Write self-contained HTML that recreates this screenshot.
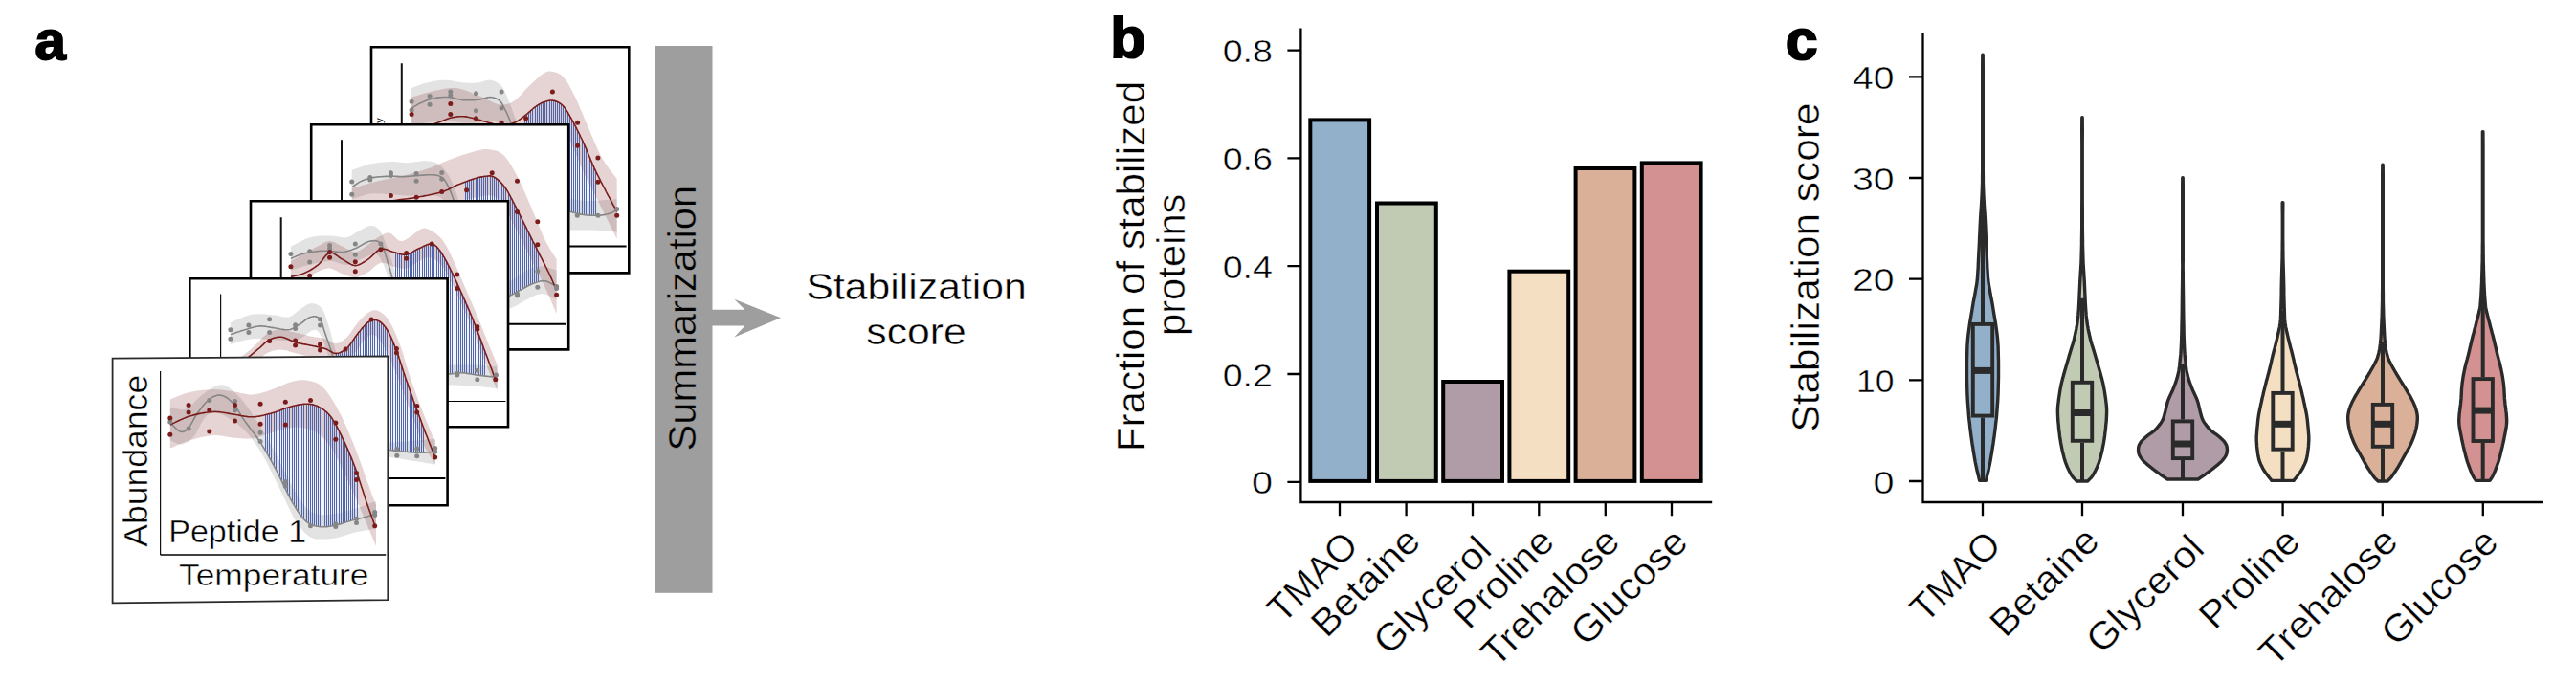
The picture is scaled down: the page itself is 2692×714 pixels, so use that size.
<!DOCTYPE html>
<html lang="en"><head><meta charset="utf-8"><title>Figure</title>
<style>html,body{margin:0;padding:0;background:#fff}svg{display:block}text{font-family:"Liberation Sans",sans-serif}.t{stroke:#fff;stroke-width:.45px}.tg{stroke:#9e9e9e;stroke-width:.45px}</style>
</head><body>
<svg width="2692" height="714" viewBox="0 0 2692 714">
<rect width="2692" height="714" fill="#fff"/>
<g>
<clipPath id="cc5"><path d="M388 49.2 L657.3 49.2 L657.3 285.4 L388 285.4Z"/></clipPath>
<path d="M388 49.2 L657.3 49.2 L657.3 285.4 L388 285.4Z" fill="#fff" stroke="#000" stroke-width="2.6" stroke-linejoin="miter"/>
<g clip-path="url(#cc5)">
<line x1="419.8" y1="66.2" x2="419.8" y2="257.6" stroke="#111" stroke-width="2"/>
<line x1="419.8" y1="257.6" x2="654.6" y2="257.6" stroke="#000" stroke-width="2"/>
<path d="M430.1 92.1 L431.4 91.6 L432.8 91.1 L434 90.6 L435.3 90.1 L436.6 89.5 L437.9 89 L439.2 88.5 L440.6 88 L441.9 87.6 L443.3 87.1 L444.7 86.7 L446.1 86.4 L447.6 86 L449.1 85.7 L450.6 85.4 L452.2 85.1 L453.8 84.8 L455.4 84.5 L457 84.3 L458.7 84.1 L460.3 83.9 L461.9 83.8 L463.5 83.7 L465.1 83.7 L466.7 83.8 L468.3 83.9 L470 84.1 L471.6 84.3 L473.2 84.6 L474.9 84.9 L476.5 85.2 L478.1 85.5 L479.7 85.8 L481.2 86 L482.7 86.2 L484.2 86.4 L485.6 86.5 L486.9 86.6 L488.3 86.6 L489.6 86.7 L490.9 86.7 L492.1 86.7 L493.4 86.7 L494.6 86.7 L495.8 86.6 L497 86.6 L498.2 86.5 L499.4 86.4 L500.6 86.2 L501.7 86 L502.9 85.7 L504 85.3 L505.2 85 L506.3 84.6 L507.4 84.3 L508.5 84 L509.5 83.8 L510.6 83.7 L511.7 83.6 L512.7 83.7 L513.7 83.9 L514.8 84.2 L515.8 84.5 L516.8 84.9 L517.8 85.3 L518.8 85.8 L519.7 86.4 L520.7 87 L521.6 87.7 L522.4 88.5 L523.3 89.3 L524.1 90.2 L524.9 91.1 L525.6 92.1 L526.3 93.2 L526.9 94.4 L527.6 95.6 L528.2 96.9 L528.7 98.2 L529.3 99.6 L529.9 101 L530.5 102.4 L531.1 103.9 L531.7 105.4 L532.3 106.9 L532.9 108.4 L533.5 109.8 L534 111.3 L534.6 112.8 L535.2 114.4 L535.8 116.1 L536.4 117.9 L537 119.8 L537.7 121.8 L538.5 124 L539.3 126.3 L540.2 128.9 L541.2 131.8 L542.2 134.8 L543.3 138 L544.4 141.4 L545.5 144.8 L546.7 148.2 L547.9 151.6 L549.1 155 L550.3 158.3 L551.5 161.4 L552.6 164.4 L553.9 167.2 L555.1 170.1 L556.3 173 L557.6 175.8 L558.9 178.6 L560.1 181.3 L561.4 183.9 L562.7 186.4 L564 188.7 L565.3 190.9 L566.6 193 L567.9 194.8 L569.1 196.5 L570.4 197.9 L571.7 199.2 L573 200.4 L574.3 201.4 L575.6 202.3 L576.9 203.1 L578.2 203.8 L579.4 204.5 L580.7 205.1 L581.9 205.7 L583.1 206.2 L584.2 206.7 L585.3 207.1 L586.4 207.4 L587.4 207.6 L588.4 207.7 L589.4 207.8 L590.4 207.8 L591.5 207.9 L592.6 207.9 L593.8 207.9 L595 208 L596.4 208.1 L597.9 208.3 L599.4 208.5 L601 208.7 L602.6 208.9 L604.3 209.1 L606 209.3 L607.8 209.5 L609.6 209.7 L611.5 209.8 L613.4 209.9 L615.3 210 L617.3 210 L619.4 210 L621.5 209.9 L623.7 209.8 L626 209.7 L628.3 209.5 L630.6 209.3 L633 209.1 L635.4 208.9 L637.7 208.7 L640.1 208.5 L642.4 208.3 L644.7 208.1 L644.7 242.4 L642.4 242.2 L640.1 242 L637.7 241.9 L635.4 241.7 L633 241.5 L630.6 241.3 L628.3 241.1 L626 241 L623.7 240.8 L621.5 240.7 L619.4 240.6 L617.3 240.5 L615.3 240.4 L613.4 240.4 L611.5 240.4 L609.7 240.4 L607.9 240.4 L606.1 240.5 L604.4 240.5 L602.7 240.5 L601.1 240.6 L599.5 240.6 L597.9 240.5 L596.4 240.5 L594.9 240.4 L593.6 240.4 L592.2 240.4 L591 240.4 L589.8 240.4 L588.6 240.4 L587.4 240.3 L586.2 240.1 L585 239.9 L583.8 239.6 L582.5 239.1 L581.2 238.6 L579.8 237.9 L578.4 237.2 L577 236.5 L575.5 235.6 L574.1 234.7 L572.6 233.7 L571.2 232.6 L569.7 231.4 L568.3 230.1 L566.8 228.6 L565.4 227 L564.1 225.3 L562.7 223.3 L561.4 221.3 L560.1 219 L558.8 216.7 L557.5 214.2 L556.2 211.6 L555 208.9 L553.7 206.2 L552.5 203.4 L551.2 200.5 L550 197.7 L548.8 194.8 L547.7 191.9 L546.5 188.7 L545.3 185.5 L544.1 182.1 L543 178.7 L541.8 175.3 L540.7 171.9 L539.6 168.6 L538.5 165.4 L537.5 162.3 L536.5 159.4 L535.5 156.8 L534.6 154.3 L533.7 151.9 L532.9 149.6 L532.1 147.5 L531.4 145.4 L530.6 143.4 L529.9 141.6 L529.2 139.9 L528.4 138.2 L527.7 136.7 L526.9 135.3 L526 133.9 L525.1 132.7 L524.3 131.7 L523.4 130.7 L522.5 129.9 L521.6 129.2 L520.7 128.6 L519.7 128.1 L518.8 127.6 L517.8 127.2 L516.7 126.9 L515.7 126.6 L514.6 126.3 L513.5 126.2 L512.3 126.1 L511.1 126.2 L509.8 126.3 L508.5 126.5 L507.2 126.8 L505.9 127.1 L504.6 127.4 L503.3 127.7 L502 127.9 L500.7 128.1 L499.4 128.2 L498.1 128.3 L496.9 128.4 L495.7 128.4 L494.4 128.4 L493.2 128.5 L492 128.5 L490.8 128.5 L489.5 128.4 L488.2 128.4 L486.9 128.4 L485.6 128.3 L484.2 128.2 L482.7 128.1 L481.2 128 L479.7 127.8 L478.1 127.6 L476.5 127.4 L474.9 127.2 L473.2 126.9 L471.6 126.7 L470 126.6 L468.3 126.4 L466.7 126.4 L465.1 126.3 L463.5 126.3 L461.9 126.4 L460.3 126.5 L458.7 126.6 L457 126.8 L455.4 126.9 L453.8 127.1 L452.2 127.3 L450.6 127.5 L449.1 127.8 L447.6 128 L446.1 128.2 L444.7 128.5 L443.3 128.8 L441.9 129 L440.6 129.4 L439.2 129.7 L437.9 130 L436.6 130.4 L435.3 130.7 L434 131 L432.8 131.4 L431.4 131.7 L430.1 132Z" fill="#8a8a8a" fill-opacity="0.24"/>
<path d="M430.1 101.6 L432.1 101 L434.1 100.5 L436 99.9 L438 99.3 L440 98.7 L442 98.1 L443.9 97.6 L445.9 97 L447.9 96.5 L449.8 96 L451.8 95.5 L453.7 95.1 L455.6 94.7 L457.6 94.3 L459.5 93.9 L461.4 93.5 L463.3 93.1 L465.2 92.7 L467.1 92.4 L469 92.2 L470.9 92 L472.7 91.9 L474.6 91.9 L476.5 92.1 L478.4 92.3 L480.4 92.7 L482.3 93.2 L484.2 93.8 L486.1 94.4 L488 95.1 L489.9 95.8 L491.8 96.6 L493.7 97.4 L495.6 98.2 L497.5 99 L499.4 99.7 L501.3 100.5 L503.3 101.3 L505.3 102.2 L507.3 103.2 L509.3 104.2 L511.3 105.2 L513.2 106.1 L515.2 106.9 L517 107.7 L518.8 108.4 L520.6 108.9 L522.2 109.2 L523.7 109.4 L525.2 109.5 L526.5 109.5 L527.8 109.3 L529.1 109.1 L530.3 108.8 L531.5 108.5 L532.6 108 L533.8 107.5 L535 106.8 L536.2 106.2 L537.4 105.4 L538.7 104.5 L540 103.5 L541.2 102.3 L542.5 101.1 L543.8 99.8 L545 98.4 L546.3 97 L547.6 95.5 L548.8 94.1 L550.1 92.7 L551.4 91.4 L552.6 90.2 L553.9 89 L555.3 87.7 L556.6 86.4 L557.9 85.2 L559.3 83.9 L560.6 82.7 L561.9 81.5 L563.2 80.4 L564.5 79.3 L565.7 78.4 L566.8 77.6 L567.9 76.9 L568.9 76.3 L569.8 75.8 L570.6 75.4 L571.4 75.1 L572.1 74.9 L572.9 74.7 L573.6 74.6 L574.3 74.6 L575 74.6 L575.8 74.7 L576.5 74.8 L577.4 75 L578.3 75.1 L579.2 75.3 L580.1 75.5 L581 75.8 L582 76.1 L583 76.5 L583.9 77 L584.9 77.5 L585.9 78.1 L586.9 78.9 L587.8 79.7 L588.8 80.7 L589.7 81.7 L590.7 82.9 L591.6 84.2 L592.5 85.6 L593.5 87.1 L594.4 88.6 L595.3 90.3 L596.3 92 L597.2 93.8 L598.2 95.7 L599.2 97.7 L600.2 99.7 L601.3 101.8 L602.3 104.1 L603.4 106.4 L604.4 108.8 L605.5 111.4 L606.6 114 L607.8 116.6 L608.9 119.3 L610 122 L611.2 124.7 L612.3 127.4 L613.5 130.1 L614.7 132.9 L615.9 135.7 L617.2 138.7 L618.4 141.7 L619.7 144.7 L621 147.7 L622.3 150.7 L623.6 153.7 L624.8 156.5 L626.1 159.3 L627.5 161.9 L628.8 164.4 L630.1 166.7 L631.4 168.8 L632.7 170.9 L634 172.8 L635.4 174.7 L636.7 176.5 L638 178.3 L639.4 180 L640.7 181.8 L642.1 183.5 L643.4 185.3 L644.7 187.2 L644.7 250 L643.7 247.9 L642.7 245.8 L641.7 243.8 L640.6 241.7 L639.6 239.6 L638.6 237.5 L637.6 235.4 L636.6 233.4 L635.5 231.3 L634.5 229.3 L633.5 227.3 L632.6 225.3 L631.6 223.3 L630.6 221.3 L629.6 219.4 L628.7 217.5 L627.7 215.6 L626.8 213.7 L625.9 211.8 L624.9 210 L624 208.1 L623 206.2 L622.1 204.3 L621.1 202.4 L620.2 200.5 L619.2 198.7 L618.3 196.8 L617.3 195 L616.4 193.1 L615.4 191.2 L614.5 189.4 L613.5 187.5 L612.6 185.6 L611.6 183.6 L610.7 181.6 L609.7 179.6 L608.8 177.5 L607.8 175.3 L606.8 173 L605.8 170.6 L604.8 168.3 L603.8 165.9 L602.8 163.6 L601.8 161.3 L600.9 159 L600 156.9 L599.1 154.9 L598.3 153 L597.5 151.2 L596.8 149.4 L596.1 147.7 L595.5 146.1 L594.9 144.6 L594.3 143.1 L593.7 141.7 L593.1 140.3 L592.5 139.1 L591.9 137.9 L591.3 136.8 L590.7 135.8 L590.1 134.9 L589.5 134.1 L588.9 133.4 L588.3 132.8 L587.7 132.3 L587.1 131.8 L586.5 131.4 L585.9 131 L585.3 130.8 L584.6 130.5 L583.9 130.3 L583.1 130.1 L582.3 130 L581.4 129.9 L580.5 129.9 L579.6 130 L578.6 130.1 L577.6 130.2 L576.6 130.4 L575.6 130.7 L574.6 131 L573.6 131.3 L572.6 131.6 L571.7 132 L570.7 132.5 L569.8 132.9 L568.9 133.5 L568 134.1 L567.1 134.7 L566.2 135.4 L565.3 136 L564.3 136.8 L563.4 137.5 L562.4 138.2 L561.3 138.9 L560.3 139.6 L559.1 140.4 L558 141.2 L556.9 142 L555.7 142.9 L554.6 143.8 L553.4 144.6 L552.1 145.5 L550.8 146.3 L549.5 147.1 L548.1 147.9 L546.6 148.6 L545 149.2 L543.4 149.7 L541.7 150.2 L539.9 150.7 L538 151.1 L536.1 151.5 L534.1 151.9 L532.1 152.2 L530.1 152.5 L528.1 152.7 L526.1 152.8 L524.1 152.9 L522.2 153 L520.3 152.9 L518.4 152.8 L516.5 152.5 L514.6 152.3 L512.7 151.9 L510.8 151.5 L508.9 151.1 L507 150.7 L505.1 150.3 L503.2 149.9 L501.3 149.5 L499.4 149.2 L497.5 148.8 L495.6 148.4 L493.7 148 L491.8 147.6 L489.9 147.2 L488 146.8 L486.1 146.4 L484.2 146.1 L482.3 145.8 L480.4 145.5 L478.4 145.4 L476.5 145.4 L474.6 145.4 L472.7 145.5 L470.9 145.7 L469 145.9 L467.1 146.2 L465.2 146.5 L463.3 146.9 L461.4 147.3 L459.5 147.8 L457.6 148.2 L455.6 148.7 L453.7 149.2 L451.8 149.7 L449.8 150.2 L447.9 150.8 L445.9 151.4 L443.9 152.1 L442 152.7 L440 153.4 L438 154.1 L436 154.8 L434.1 155.5 L432.1 156.1 L430.1 156.8Z" fill="#7a1c1c" fill-opacity="0.19"/>
<path d="M548.5 120.9 L550.5 119.3 L552.5 117.6 L554.5 115.8 L556.5 114.1 L559.5 111.7 L561.5 110.3 L563.5 109 L565.5 107.9 L567.5 107 L569.5 106.2 L571.5 105.7 L574.5 105.1 L576.5 105 L578.5 105.2 L580.5 105.7 L582.5 106.5 L584.5 107.5 L586.5 108.9 L588.5 110.8 L590.5 113.2 L593.5 117.8 L595.5 121.2 L597.5 124.8 L599.5 128.5 L601.5 132.3 L603.5 136.2 L605.5 140.3 L608.5 146.5 L610.5 150.9 L612.5 155.4 L614.5 160.2 L616.5 165 L618.5 169.8 L620.5 174.4 L622.5 178.7 L622.5 225.3 L620.5 225.3 L618.5 225.2 L616.5 225.1 L614.5 225 L612.5 224.8 L610.5 224.6 L608.5 224.3 L605.5 223.7 L603.5 223.2 L601.5 222.7 L599.5 222.2 L597.5 221.7 L595.5 221.3 L593.5 221 L590.5 220.6 L588.5 220.4 L586.5 220 L584.5 219.4 L582.5 218.9 L580.5 218.3 L578.5 217.7 L576.5 216.9 L574.5 215.9 L571.5 213.7 L569.5 211.9 L567.5 209.9 L565.5 207.8 L563.5 205.4 L561.5 202.8 L559.5 199.9 L556.5 194.9 L554.5 190.9 L552.5 186.3 L550.5 181.3 L548.5 176Z" fill="#4559a5" fill-opacity="0.07"/>
<path d="M548.5 120.9V176M550.5 119.3V181.3M552.5 117.6V186.3M554.5 115.8V190.9M556.5 114.1V194.9M559.5 111.7V199.9M561.5 110.3V202.8M563.5 109V205.4M565.5 107.9V207.8M567.5 107V209.9M569.5 106.2V211.9M571.5 105.7V213.7M574.5 105.1V215.9M576.5 105V216.9M578.5 105.2V217.7M580.5 105.7V218.3M582.5 106.5V218.9M584.5 107.5V219.4M586.5 108.9V220M588.5 110.8V220.4M590.5 113.2V220.6M593.5 117.8V221M595.5 121.2V221.3M597.5 124.8V221.7M599.5 128.5V222.2M601.5 132.3V222.7M603.5 136.2V223.2M605.5 140.3V223.7M608.5 146.5V224.3M610.5 150.9V224.6M612.5 155.4V224.8M614.5 160.2V225M616.5 165V225.1M618.5 169.8V225.2M620.5 174.4V225.3M622.5 178.7V225.3" stroke="#4f65ac" stroke-width="1" fill="none"/>
<path d="M430.1 113 L431 112.5 L431.8 112 L432.6 111.6 L433.4 111.1 L434.2 110.6 L435.1 110.1 L435.9 109.6 L436.7 109.1 L437.6 108.6 L438.5 108.2 L439.4 107.7 L440.4 107.3 L441.4 106.9 L442.4 106.4 L443.5 106 L444.5 105.6 L445.6 105.1 L446.7 104.7 L447.9 104.3 L449 104 L450.2 103.6 L451.3 103.3 L452.5 103 L453.7 102.7 L454.9 102.5 L456.1 102.3 L457.4 102.1 L458.6 101.9 L459.9 101.8 L461.2 101.7 L462.5 101.6 L463.8 101.5 L465.1 101.5 L466.4 101.5 L467.7 101.5 L468.9 101.6 L470.2 101.7 L471.5 101.9 L472.7 102.1 L474 102.4 L475.3 102.7 L476.5 103.1 L477.8 103.4 L479.1 103.7 L480.4 104 L481.6 104.3 L482.9 104.5 L484.2 104.6 L485.4 104.7 L486.7 104.8 L488 104.8 L489.3 104.8 L490.6 104.8 L491.9 104.8 L493.2 104.7 L494.4 104.7 L495.7 104.6 L496.9 104.5 L498.2 104.4 L499.4 104.3 L500.6 104.1 L501.7 103.9 L502.9 103.6 L504.1 103.3 L505.3 103 L506.4 102.7 L507.5 102.4 L508.6 102.1 L509.7 101.9 L510.7 101.7 L511.7 101.6 L512.7 101.6 L513.6 101.7 L514.5 101.8 L515.4 102 L516.3 102.2 L517.1 102.4 L517.9 102.7 L518.7 103.1 L519.5 103.5 L520.2 103.9 L520.9 104.4 L521.6 104.9 L522.2 105.4 L522.8 106 L523.4 106.6 L523.9 107.3 L524.4 108 L524.9 108.8 L525.3 109.6 L525.7 110.4 L526.2 111.2 L526.6 112.1 L527 113 L527.5 114 L527.9 114.9 L528.4 115.8 L528.8 116.7 L529.3 117.5 L529.7 118.4 L530.1 119.2 L530.5 120.1 L531 121.1 L531.4 122.2 L531.9 123.5 L532.5 124.9 L533 126.4 L533.6 128.2 L534.3 130.2 L534.9 132.5 L535.6 134.9 L536.4 137.5 L537.1 140.3 L537.9 143.1 L538.7 146 L539.5 148.9 L540.4 151.9 L541.3 154.8 L542.2 157.7 L543.1 160.6 L544.1 163.4 L545.1 166.3 L546.2 169.4 L547.2 172.4 L548.3 175.5 L549.4 178.5 L550.6 181.5 L551.7 184.5 L552.9 187.3 L554.1 190 L555.3 192.5 L556.5 194.8 L557.7 197 L558.9 199 L560.2 201 L561.5 202.8 L562.8 204.5 L564.1 206.1 L565.4 207.6 L566.7 209.1 L568 210.4 L569.2 211.6 L570.5 212.8 L571.7 213.8 L572.9 214.8 L574 215.6 L575.2 216.3 L576.3 216.9 L577.5 217.4 L578.6 217.8 L579.7 218.1 L580.8 218.4 L581.8 218.7 L582.9 219 L584 219.3 L585 219.6 L586 219.8 L587 220.1 L587.9 220.3 L588.9 220.4 L589.8 220.6 L590.7 220.7 L591.6 220.8 L592.5 220.9 L593.5 221 L594.4 221.1 L595.4 221.3 L596.4 221.5 L597.4 221.7 L598.5 221.9 L599.6 222.2 L600.6 222.5 L601.7 222.8 L602.8 223 L603.9 223.3 L605.1 223.6 L606.2 223.9 L607.4 224.1 L608.5 224.3 L609.7 224.5 L610.9 224.6 L612.2 224.8 L613.5 224.9 L614.8 225 L616.1 225.1 L617.5 225.2 L618.8 225.2 L620.1 225.3 L621.4 225.3 L622.6 225.3 L623.8 225.3 L624.9 225.3 L626 225.2 L627.1 225.1 L628.1 225 L629.1 224.9 L630.1 224.8 L631.1 224.6 L632 224.4 L632.9 224.2 L633.8 224 L634.7 223.8 L635.5 223.6 L636.4 223.4 L637.2 223.1 L637.9 222.8 L638.7 222.5 L639.4 222.2 L640.1 221.9 L640.7 221.6 L641.4 221.2 L642.1 220.9 L642.7 220.5 L643.4 220.2 L644 219.9 L644.7 219.6" stroke="#868686" stroke-width="1.6" fill="none"/>
<path d="M430.1 135.8 L431.3 135.5 L432.5 135.2 L433.7 134.9 L434.8 134.6 L436 134.3 L437.2 133.9 L438.4 133.6 L439.6 133.3 L440.7 133 L441.9 132.7 L443.1 132.3 L444.2 132 L445.3 131.7 L446.5 131.4 L447.6 131.1 L448.7 130.8 L449.8 130.5 L450.9 130.2 L452 129.9 L453.1 129.6 L454.2 129.3 L455.3 128.9 L456.4 128.6 L457.5 128.2 L458.6 127.8 L459.7 127.4 L460.8 127 L462 126.5 L463.1 126.1 L464.2 125.6 L465.3 125.2 L466.4 124.7 L467.5 124.3 L468.6 123.9 L469.7 123.6 L470.8 123.3 L471.9 123 L473.1 122.8 L474.2 122.6 L475.3 122.4 L476.4 122.2 L477.5 122 L478.6 121.9 L479.7 121.8 L480.8 121.8 L481.9 121.7 L483 121.7 L484.2 121.8 L485.3 121.8 L486.4 121.9 L487.5 122.1 L488.6 122.3 L489.7 122.5 L490.8 122.8 L491.9 123 L493 123.3 L494.1 123.6 L495.3 123.9 L496.4 124.1 L497.5 124.4 L498.6 124.7 L499.7 125 L500.8 125.3 L501.9 125.6 L503 126 L504.1 126.3 L505.2 126.7 L506.4 127 L507.5 127.3 L508.6 127.6 L509.7 127.9 L510.8 128.2 L511.9 128.5 L513 128.8 L514.1 129.1 L515.2 129.4 L516.3 129.7 L517.5 130 L518.6 130.2 L519.7 130.4 L520.8 130.6 L521.9 130.8 L523 130.9 L524.1 130.9 L525.2 130.9 L526.4 130.8 L527.5 130.7 L528.6 130.6 L529.8 130.4 L530.9 130.2 L532 130 L533.1 129.7 L534.2 129.4 L535.3 129 L536.4 128.6 L537.4 128.2 L538.4 127.8 L539.4 127.3 L540.4 126.7 L541.4 126.1 L542.3 125.5 L543.3 124.8 L544.2 124.2 L545.1 123.5 L546 122.8 L547 122.1 L547.9 121.3 L548.8 120.6 L549.8 119.9 L550.8 119.1 L551.7 118.3 L552.7 117.4 L553.7 116.6 L554.7 115.7 L555.6 114.8 L556.6 114 L557.5 113.2 L558.5 112.4 L559.4 111.7 L560.3 111.1 L561.1 110.5 L562 110 L562.8 109.4 L563.6 109 L564.4 108.5 L565.1 108.1 L565.9 107.7 L566.7 107.3 L567.4 107 L568.2 106.7 L569 106.4 L569.8 106.2 L570.6 105.9 L571.4 105.7 L572.1 105.5 L572.9 105.4 L573.7 105.2 L574.5 105.1 L575.3 105 L576.1 105 L576.9 105 L577.7 105.1 L578.5 105.2 L579.3 105.4 L580.1 105.6 L580.9 105.9 L581.7 106.1 L582.5 106.5 L583.2 106.8 L584 107.3 L584.8 107.7 L585.6 108.3 L586.4 108.9 L587.2 109.5 L588 110.3 L588.8 111.1 L589.6 112 L590.4 113 L591.1 114.1 L591.9 115.2 L592.7 116.4 L593.4 117.6 L594.2 119 L595 120.3 L595.8 121.8 L596.6 123.2 L597.5 124.8 L598.3 126.3 L599.2 127.9 L600.1 129.6 L601 131.4 L602 133.2 L602.9 135.1 L603.9 137 L604.9 139 L605.9 141 L606.8 143 L607.8 145 L608.8 147.1 L609.7 149.2 L610.7 151.3 L611.6 153.4 L612.6 155.6 L613.5 157.9 L614.5 160.2 L615.4 162.5 L616.4 164.8 L617.3 167.1 L618.3 169.3 L619.2 171.5 L620.2 173.7 L621.1 175.8 L622.1 177.8 L623 179.8 L624 181.8 L624.9 183.7 L625.9 185.6 L626.8 187.4 L627.7 189.3 L628.7 191.2 L629.6 193 L630.6 194.9 L631.6 196.7 L632.6 198.6 L633.5 200.5 L634.5 202.4 L635.5 204.3 L636.6 206.2 L637.6 208.1 L638.6 210 L639.6 211.9 L640.6 213.8 L641.7 215.7 L642.7 217.6 L643.7 219.6 L644.7 221.5" stroke="#7a1c1c" stroke-width="1.6" fill="none"/>
<circle cx="430.1" cy="106.2" r="2.5" fill="#868686"/>
<circle cx="430.1" cy="114.9" r="2.5" fill="#868686"/>
<circle cx="449.1" cy="100.4" r="2.5" fill="#868686"/>
<circle cx="449.1" cy="109.2" r="2.5" fill="#868686"/>
<circle cx="470.8" cy="95.9" r="2.5" fill="#868686"/>
<circle cx="470.8" cy="99.7" r="2.5" fill="#868686"/>
<circle cx="497.5" cy="97.8" r="2.5" fill="#868686"/>
<circle cx="497.5" cy="115.7" r="2.5" fill="#868686"/>
<circle cx="524.1" cy="95.9" r="2.5" fill="#868686"/>
<circle cx="524.1" cy="113" r="2.5" fill="#868686"/>
<circle cx="603.3" cy="225.3" r="2.5" fill="#868686"/>
<circle cx="624.9" cy="225.3" r="2.5" fill="#868686"/>
<circle cx="644.7" cy="218.4" r="2.5" fill="#868686"/>
<circle cx="430.1" cy="119.5" r="2.5" fill="#7a1c1c"/>
<circle cx="470.8" cy="108.4" r="2.5" fill="#7a1c1c"/>
<circle cx="470.8" cy="119.5" r="2.5" fill="#7a1c1c"/>
<circle cx="497.5" cy="123.7" r="2.5" fill="#7a1c1c"/>
<circle cx="524.1" cy="128.2" r="2.5" fill="#7a1c1c"/>
<circle cx="549.6" cy="123.7" r="2.5" fill="#7a1c1c"/>
<circle cx="577.4" cy="95.9" r="2.5" fill="#7a1c1c"/>
<circle cx="603.6" cy="128.2" r="2.5" fill="#7a1c1c"/>
<circle cx="603.6" cy="152.2" r="2.5" fill="#7a1c1c"/>
<circle cx="624.9" cy="165.1" r="2.5" fill="#7a1c1c"/>
<circle cx="624.9" cy="190.3" r="2.5" fill="#7a1c1c"/>
<circle cx="644.7" cy="225.3" r="2.5" fill="#7a1c1c"/>
<text transform="translate(399.6 123.2) rotate(-90)" font-size="11" text-anchor="end" fill="#000">y</text>
</g></g>
<g>
<clipPath id="cc4"><path d="M325.2 130.2 L594.2 130.2 L594.2 365.4 L325.2 365.4Z"/></clipPath>
<path d="M325.2 130.2 L594.2 130.2 L594.2 365.4 L325.2 365.4Z" fill="#fff" stroke="#000" stroke-width="2.6" stroke-linejoin="miter"/>
<g clip-path="url(#cc4)">
<line x1="357" y1="146.2" x2="357" y2="338.7" stroke="#111" stroke-width="2"/>
<line x1="357" y1="338.7" x2="591.9" y2="338.7" stroke="#000" stroke-width="2"/>
<path d="M367.7 177.8 L369.4 177.2 L371 176.7 L372.7 176.1 L374.3 175.5 L375.9 174.9 L377.6 174.3 L379.2 173.7 L380.8 173.2 L382.5 172.6 L384.2 172.2 L385.8 171.7 L387.5 171.3 L389.2 171 L391 170.7 L392.8 170.4 L394.6 170.1 L396.4 169.9 L398.1 169.7 L399.9 169.5 L401.7 169.4 L403.5 169.3 L405.2 169.2 L406.8 169.1 L408.4 169 L410 169 L411.5 169.1 L413 169.1 L414.4 169.3 L415.8 169.4 L417.1 169.6 L418.5 169.7 L419.9 169.9 L421.2 170 L422.7 170.1 L424.1 170.2 L425.6 170.2 L427.1 170.1 L428.7 170 L430.3 169.8 L432 169.6 L433.7 169.3 L435.3 169.1 L437 168.9 L438.6 168.7 L440.2 168.5 L441.7 168.3 L443.2 168.3 L444.6 168.3 L445.9 168.3 L447.2 168.4 L448.4 168.5 L449.6 168.7 L450.7 168.8 L451.9 169 L452.9 169.3 L454 169.6 L455 169.9 L456 170.3 L457 170.8 L457.9 171.3 L458.8 171.9 L459.7 172.6 L460.6 173.3 L461.4 174 L462.2 174.8 L463 175.7 L463.8 176.6 L464.5 177.5 L465.3 178.5 L466 179.5 L466.7 180.5 L467.4 181.6 L468.1 182.6 L468.8 183.6 L469.4 184.6 L470 185.5 L470.5 186.5 L471.1 187.6 L471.7 188.7 L472.3 190 L472.9 191.4 L473.6 193 L474.3 194.8 L475 196.8 L475.8 199.1 L476.7 201.6 L477.5 204.3 L478.4 207.2 L479.3 210.3 L480.3 213.5 L481.2 216.7 L482.2 220 L483.2 223.3 L484.3 226.6 L485.4 229.8 L486.5 233 L487.6 236.1 L488.8 239.4 L490 242.7 L491.2 246.1 L492.5 249.5 L493.8 252.9 L495.1 256.3 L496.5 259.5 L497.8 262.7 L499.1 265.6 L500.4 268.4 L501.7 271 L502.9 273.4 L504.2 275.7 L505.5 277.9 L506.7 280 L508 281.9 L509.2 283.7 L510.5 285.4 L511.8 287 L513 288.4 L514.3 289.8 L515.6 290.9 L516.9 291.9 L518.2 292.8 L519.5 293.5 L520.8 294.1 L522.1 294.5 L523.4 294.8 L524.7 294.9 L526 295 L527.4 294.9 L528.7 294.7 L530.1 294.5 L531.5 294.2 L532.9 293.8 L534.3 293.3 L535.8 292.6 L537.4 291.7 L538.9 290.7 L540.5 289.6 L542.1 288.5 L543.6 287.3 L545.2 286.2 L546.7 285.1 L548.2 284 L549.7 283.2 L551.1 282.4 L552.5 281.8 L553.9 281.3 L555.2 280.8 L556.4 280.3 L557.7 279.9 L558.9 279.6 L560.2 279.3 L561.4 279 L562.6 278.9 L563.9 278.7 L565.1 278.6 L566.4 278.6 L567.6 278.7 L568.9 278.8 L570.2 279 L571.4 279.3 L572.7 279.7 L574 280 L575.2 280.5 L576.5 280.9 L577.8 281.3 L579 281.7 L580.3 282.1 L581.6 282.4 L581.6 312.9 L580.3 312.4 L579 311.8 L577.8 311.2 L576.5 310.5 L575.2 309.9 L574 309.3 L572.7 308.7 L571.4 308.2 L570.2 307.8 L568.9 307.5 L567.6 307.2 L566.4 307.2 L565.1 307.2 L563.9 307.4 L562.6 307.7 L561.4 308.1 L560.2 308.5 L558.9 309.1 L557.7 309.6 L556.4 310.3 L555.2 310.9 L553.9 311.6 L552.5 312.2 L551.1 312.9 L549.7 313.6 L548.2 314.3 L546.7 315.2 L545.2 316.1 L543.6 317 L542.1 318 L540.5 318.9 L538.9 319.8 L537.4 320.6 L535.8 321.3 L534.3 321.9 L532.9 322.4 L531.5 322.8 L530.1 323.1 L528.7 323.5 L527.4 323.7 L526 323.9 L524.7 324 L523.4 324.1 L522.1 324 L520.8 323.8 L519.5 323.5 L518.2 323 L516.9 322.4 L515.6 321.6 L514.3 320.7 L513 319.7 L511.8 318.6 L510.5 317.3 L509.2 316 L508 314.5 L506.7 312.9 L505.5 311.1 L504.2 309.3 L502.9 307.3 L501.7 305.3 L500.4 303 L499.1 300.6 L497.8 298 L496.5 295.3 L495.2 292.4 L493.9 289.4 L492.7 286.4 L491.4 283.3 L490.1 280.2 L488.9 277.1 L487.7 274.1 L486.5 271 L485.3 267.9 L484.1 264.7 L482.9 261.4 L481.7 258 L480.6 254.7 L479.4 251.3 L478.3 247.9 L477.2 244.7 L476.2 241.5 L475.1 238.5 L474.1 235.6 L473.1 233 L472.2 230.5 L471.4 228.1 L470.5 225.8 L469.8 223.6 L469 221.5 L468.3 219.5 L467.5 217.7 L466.8 215.9 L466 214.3 L465.3 212.8 L464.5 211.4 L463.6 210.1 L462.8 209 L462 208.1 L461.3 207.4 L460.5 206.7 L459.8 206.2 L459 205.8 L458.1 205.5 L457.2 205.3 L456.2 205 L455 204.8 L453.7 204.6 L452.2 204.4 L450.5 204.2 L448.5 204.1 L446.4 204 L444.1 204 L441.7 204.1 L439.2 204.1 L436.8 204.2 L434.3 204.3 L431.9 204.4 L429.6 204.4 L427.5 204.4 L425.6 204.4 L423.8 204.4 L422.2 204.3 L420.7 204.2 L419.3 204.1 L418 204 L416.7 203.9 L415.4 203.8 L414.1 203.7 L412.8 203.6 L411.4 203.5 L410 203.4 L408.4 203.3 L406.8 203.2 L405.2 203.1 L403.5 202.9 L401.7 202.8 L399.9 202.6 L398.1 202.5 L396.4 202.4 L394.6 202.3 L392.8 202.2 L391 202.3 L389.2 202.4 L387.5 202.5 L385.8 202.8 L384.2 203.1 L382.5 203.5 L380.8 203.9 L379.2 204.4 L377.6 205 L375.9 205.5 L374.3 206.1 L372.7 206.6 L371 207.2 L369.4 207.7 L367.7 208.2Z" fill="#8a8a8a" fill-opacity="0.24"/>
<path d="M367.7 196.8 L370 196.2 L372.3 195.5 L374.6 194.9 L376.9 194.2 L379.2 193.5 L381.5 192.9 L383.8 192.2 L386.1 191.6 L388.3 191 L390.6 190.4 L392.9 189.8 L395.1 189.2 L397.4 188.7 L399.6 188.2 L401.8 187.7 L404.1 187.2 L406.3 186.8 L408.5 186.3 L410.7 185.9 L412.9 185.5 L415.1 185 L417.3 184.5 L419.5 184 L421.8 183.5 L424 182.9 L426.2 182.4 L428.5 181.8 L430.8 181.2 L433.1 180.6 L435.3 179.9 L437.6 179.3 L439.8 178.6 L442 178 L444.2 177.3 L446.3 176.6 L448.4 175.9 L450.4 175.2 L452.4 174.4 L454.4 173.6 L456.3 172.8 L458.2 172 L460.1 171.1 L461.9 170.3 L463.8 169.5 L465.6 168.7 L467.5 167.9 L469.3 167.1 L471.2 166.4 L473.2 165.7 L475.1 164.9 L477.1 164.2 L479.1 163.5 L481.1 162.8 L483.1 162.1 L485.1 161.5 L487 160.9 L488.9 160.3 L490.7 159.7 L492.4 159.2 L494.1 158.8 L495.6 158.3 L497 157.9 L498.4 157.6 L499.7 157.2 L500.9 156.9 L502.1 156.7 L503.3 156.4 L504.5 156.3 L505.7 156.1 L506.8 156.1 L508 156 L509.3 156.1 L510.6 156.2 L511.9 156.3 L513.2 156.5 L514.5 156.7 L515.8 156.9 L517.1 157.3 L518.4 157.6 L519.7 158.1 L521 158.6 L522.2 159.2 L523.4 159.9 L524.5 160.7 L525.6 161.5 L526.6 162.5 L527.6 163.5 L528.6 164.7 L529.5 165.9 L530.5 167.1 L531.4 168.5 L532.3 169.9 L533.2 171.3 L534.1 172.8 L535 174.3 L535.9 175.9 L536.9 177.5 L537.8 179.2 L538.8 181 L539.7 182.8 L540.7 184.7 L541.6 186.6 L542.6 188.5 L543.5 190.5 L544.5 192.6 L545.4 194.6 L546.4 196.7 L547.3 198.7 L548.3 200.8 L549.2 202.9 L550.2 205.1 L551.1 207.3 L552.1 209.5 L553 211.8 L554 214.1 L554.9 216.3 L555.9 218.6 L556.8 220.9 L557.8 223.1 L558.8 225.4 L559.7 227.6 L560.7 229.9 L561.6 232.2 L562.6 234.5 L563.5 236.8 L564.5 239.1 L565.4 241.4 L566.4 243.7 L567.3 245.9 L568.3 248 L569.2 250 L570.2 252 L571.1 253.8 L572.1 255.6 L573 257.3 L574 258.9 L574.9 260.5 L575.9 262 L576.8 263.5 L577.8 265 L578.7 266.4 L579.7 267.9 L580.6 269.5 L581.6 271 L581.6 328.1 L580.6 325.9 L579.7 323.6 L578.7 321.3 L577.8 319.1 L576.8 316.8 L575.9 314.5 L574.9 312.3 L574 310.1 L573 307.8 L572.1 305.7 L571.1 303.5 L570.2 301.5 L569.2 299.4 L568.3 297.4 L567.3 295.5 L566.4 293.6 L565.4 291.7 L564.5 289.8 L563.5 287.9 L562.6 286.1 L561.6 284.2 L560.7 282.4 L559.7 280.5 L558.8 278.6 L557.8 276.7 L556.8 274.8 L555.9 272.9 L554.9 271 L554 269.1 L553 267.2 L552.1 265.3 L551.1 263.4 L550.2 261.5 L549.2 259.6 L548.3 257.7 L547.3 255.8 L546.4 253.9 L545.4 252 L544.5 250 L543.5 248.1 L542.6 246.2 L541.6 244.3 L540.7 242.3 L539.7 240.4 L538.8 238.5 L537.8 236.7 L536.9 234.8 L535.9 233 L535 231.1 L534 229.2 L533.1 227.3 L532.1 225.4 L531.2 223.4 L530.2 221.5 L529.3 219.7 L528.3 218 L527.4 216.3 L526.4 214.7 L525.5 213.3 L524.5 212 L523.6 210.9 L522.6 209.9 L521.7 209 L520.8 208.2 L519.9 207.4 L519 206.8 L518.1 206.2 L517.2 205.8 L516.2 205.3 L515.2 205 L514.2 204.7 L513.1 204.4 L512 204.2 L510.8 204.2 L509.6 204.2 L508.3 204.3 L507 204.4 L505.7 204.7 L504.4 204.9 L503.1 205.2 L501.8 205.5 L500.4 205.8 L499.1 206.1 L497.9 206.3 L496.6 206.6 L495.4 206.8 L494.2 207 L493.1 207.2 L491.9 207.5 L490.7 207.8 L489.5 208 L488.3 208.4 L487 208.7 L485.6 209.1 L484.2 209.6 L482.6 210.1 L481 210.7 L479.3 211.4 L477.6 212.2 L475.7 213 L473.9 213.9 L471.9 214.8 L470 215.7 L468 216.5 L466 217.4 L463.9 218.2 L461.9 219 L459.8 219.6 L457.7 220.3 L455.6 220.8 L453.4 221.4 L451.2 221.9 L448.9 222.4 L446.6 222.9 L444.3 223.3 L442.1 223.7 L439.8 224.1 L437.6 224.6 L435.3 225 L433.2 225.4 L431 225.7 L428.9 226.1 L426.8 226.4 L424.7 226.8 L422.5 227.1 L420.5 227.4 L418.4 227.7 L416.3 228 L414.3 228.2 L412.3 228.5 L410.4 228.8 L408.4 229.2 L406.6 229.5 L404.7 229.8 L402.9 230.1 L401.1 230.4 L399.4 230.6 L397.7 230.9 L396 231.2 L394.3 231.6 L392.6 231.9 L390.9 232.2 L389.2 232.6 L387.5 233 L385.8 233.4 L384.2 233.8 L382.5 234.3 L380.8 234.7 L379.2 235.2 L377.6 235.7 L375.9 236.2 L374.3 236.7 L372.7 237.2 L371 237.7 L369.4 238.2 L367.7 238.7Z" fill="#7a1c1c" fill-opacity="0.19"/>
<path d="M486.5 189.9 L488.5 189.2 L490.5 188.5 L492.5 187.8 L494.5 187.2 L497.5 186.3 L499.5 185.7 L501.5 185.3 L503.5 184.8 L505.5 184.5 L507.5 184.2 L509.5 184.1 L512.5 183.9 L514.5 184.3 L516.5 185.2 L518.5 186.5 L520.5 188 L522.5 189.9 L524.5 192 L526.5 194.4 L528.5 197.1 L531.5 201.9 L533.5 205.6 L535.5 209.4 L537.5 213.4 L539.5 217.3 L541.5 221.2 L543.5 225.1 L546.5 231.2 L548.5 235.2 L550.5 239.3 L552.5 243.3 L554.5 247.3 L556.5 251.3 L558.5 255.3 L560.5 259.3 L562.5 263.3 L562.5 294.5 L560.5 295.1 L558.5 295.8 L556.5 296.7 L554.5 297.6 L552.5 298.6 L550.5 299.6 L548.5 300.7 L546.5 301.8 L543.5 303.4 L541.5 304.5 L539.5 305.6 L537.5 306.8 L535.5 307.9 L533.5 308.8 L531.5 309.5 L528.5 310.4 L526.5 310.4 L524.5 309.8 L522.5 309 L520.5 308.1 L518.5 306.9 L516.5 305.2 L514.5 303.2 L512.5 300.7 L509.5 296.3 L507.5 293 L505.5 289.6 L503.5 286 L501.5 282.2 L499.5 278.2 L497.5 274 L494.5 267.3 L492.5 262.5 L490.5 257.5 L488.5 252.4 L486.5 247.2Z" fill="#4559a5" fill-opacity="0.07"/>
<path d="M486.5 189.9V247.2M488.5 189.2V252.4M490.5 188.5V257.5M492.5 187.8V262.5M494.5 187.2V267.3M497.5 186.3V274M499.5 185.7V278.2M501.5 185.3V282.2M503.5 184.8V286M505.5 184.5V289.6M507.5 184.2V293M509.5 184.1V296.3M512.5 183.9V300.7M514.5 184.3V303.2M516.5 185.2V305.2M518.5 186.5V306.9M520.5 188V308.1M522.5 189.9V309M524.5 192V309.8M526.5 194.4V310.4M528.5 197.1V310.4M531.5 201.9V309.5M533.5 205.6V308.8M535.5 209.4V307.9M537.5 213.4V306.8M539.5 217.3V305.6M541.5 221.2V304.5M543.5 225.1V303.4M546.5 231.2V301.8M548.5 235.2V300.7M550.5 239.3V299.6M552.5 243.3V298.6M554.5 247.3V297.6M556.5 251.3V296.7M558.5 255.3V295.8M560.5 259.3V295.1M562.5 263.3V294.5" stroke="#4f65ac" stroke-width="1" fill="none"/>
<path d="M367.7 195.7 L368.6 195.1 L369.4 194.6 L370.2 194 L371 193.4 L371.9 192.8 L372.7 192.3 L373.5 191.7 L374.4 191.2 L375.2 190.6 L376.1 190.1 L377 189.6 L378 189.2 L379 188.8 L380 188.4 L381 188 L382.1 187.6 L383.1 187.3 L384.2 187 L385.4 186.7 L386.5 186.4 L387.7 186.1 L388.8 185.8 L390.1 185.6 L391.3 185.4 L392.6 185.2 L394 185 L395.4 184.9 L396.9 184.8 L398.4 184.7 L399.9 184.6 L401.4 184.5 L402.9 184.4 L404.3 184.4 L405.8 184.3 L407.1 184.3 L408.4 184.3 L409.7 184.2 L410.9 184.2 L412 184.3 L413.1 184.3 L414.2 184.4 L415.2 184.4 L416.3 184.5 L417.3 184.6 L418.4 184.6 L419.5 184.6 L420.6 184.7 L421.8 184.6 L423 184.6 L424.2 184.5 L425.4 184.4 L426.7 184.4 L428 184.2 L429.3 184.1 L430.5 184 L431.8 183.9 L433.1 183.8 L434.4 183.7 L435.7 183.6 L437 183.5 L438.3 183.4 L439.6 183.3 L440.9 183.2 L442.3 183.1 L443.6 183 L445 182.9 L446.3 182.8 L447.6 182.7 L448.8 182.7 L450 182.7 L451.1 182.7 L452.2 182.7 L453.2 182.8 L454.2 182.9 L455.1 183 L455.9 183.2 L456.8 183.3 L457.6 183.5 L458.3 183.8 L459 184 L459.7 184.3 L460.4 184.6 L461.1 185 L461.7 185.4 L462.3 185.8 L462.9 186.3 L463.4 186.8 L463.9 187.4 L464.4 187.9 L464.8 188.5 L465.2 189.2 L465.7 189.9 L466.1 190.6 L466.5 191.4 L467 192.2 L467.4 193 L467.9 193.9 L468.3 194.7 L468.8 195.5 L469.2 196.4 L469.6 197.3 L470 198.2 L470.5 199.3 L471 200.4 L471.4 201.7 L472 203 L472.5 204.6 L473.1 206.3 L473.8 208.2 L474.4 210.3 L475.1 212.6 L475.8 214.9 L476.5 217.4 L477.3 220 L478.1 222.7 L478.9 225.4 L479.8 228.2 L480.7 231.1 L481.6 233.9 L482.6 236.8 L483.7 239.7 L484.9 242.8 L486.1 246 L487.3 249.3 L488.6 252.7 L489.9 256 L491.2 259.4 L492.6 262.7 L493.9 265.9 L495.3 269 L496.6 272 L497.9 274.8 L499.1 277.5 L500.4 280.1 L501.8 282.7 L503.1 285.2 L504.4 287.6 L505.7 290 L507 292.2 L508.3 294.4 L509.6 296.3 L510.8 298.2 L512 299.9 L513.1 301.5 L514.2 302.8 L515.2 304 L516.3 305 L517.3 305.9 L518.3 306.7 L519.2 307.4 L520.2 307.9 L521.1 308.4 L522 308.8 L522.8 309.2 L523.7 309.5 L524.5 309.8 L525.3 310.1 L526.1 310.3 L526.8 310.4 L527.4 310.4 L528.1 310.4 L528.7 310.3 L529.4 310.2 L530 310 L530.7 309.8 L531.4 309.6 L532.1 309.3 L532.9 309.1 L533.7 308.8 L534.5 308.4 L535.3 308 L536.1 307.6 L536.9 307.1 L537.8 306.6 L538.7 306.1 L539.6 305.6 L540.5 305 L541.5 304.5 L542.5 303.9 L543.5 303.4 L544.7 302.8 L545.8 302.1 L547.1 301.5 L548.4 300.7 L549.7 300 L551.1 299.3 L552.4 298.6 L553.8 297.9 L555.1 297.3 L556.4 296.7 L557.6 296.2 L558.8 295.7 L559.8 295.4 L560.9 295 L561.9 294.7 L562.8 294.4 L563.8 294.2 L564.7 294 L565.6 293.8 L566.5 293.7 L567.4 293.6 L568.3 293.7 L569.2 293.7 L570.2 293.8 L571.1 294.1 L572.1 294.4 L573 294.7 L574 295.2 L574.9 295.7 L575.9 296.2 L576.8 296.8 L577.8 297.4 L578.7 297.9 L579.7 298.5 L580.6 299.1 L581.6 299.6" stroke="#868686" stroke-width="1.6" fill="none"/>
<path d="M367.7 219.6 L369.4 219.2 L371 218.8 L372.7 218.4 L374.3 218 L375.9 217.6 L377.6 217.1 L379.2 216.7 L380.8 216.3 L382.5 215.9 L384.2 215.5 L385.8 215.1 L387.5 214.7 L389.2 214.3 L390.9 213.9 L392.5 213.5 L394.2 213.1 L395.9 212.7 L397.6 212.3 L399.3 212 L401 211.6 L402.8 211.2 L404.6 210.8 L406.5 210.5 L408.4 210.1 L410.5 209.8 L412.6 209.5 L414.7 209.2 L416.9 208.9 L419.1 208.6 L421.4 208.3 L423.7 208 L426 207.7 L428.3 207.4 L430.6 207.1 L432.8 206.7 L435.1 206.3 L437.3 205.9 L439.6 205.5 L442 205.1 L444.3 204.6 L446.7 204.2 L449 203.7 L451.3 203.2 L453.5 202.7 L455.7 202.2 L457.8 201.7 L459.8 201.2 L461.7 200.6 L463.5 200 L465.1 199.4 L466.7 198.8 L468.2 198.2 L469.6 197.5 L471 196.8 L472.3 196.1 L473.6 195.5 L474.9 194.8 L476.2 194.2 L477.5 193.6 L478.8 193 L480.2 192.5 L481.5 191.9 L482.8 191.4 L484.1 190.9 L485.4 190.4 L486.7 189.9 L488 189.4 L489.2 188.9 L490.4 188.5 L491.7 188.1 L492.9 187.7 L494.1 187.3 L495.3 186.9 L496.4 186.6 L497.6 186.3 L498.8 185.9 L499.9 185.6 L501.1 185.3 L502.2 185.1 L503.3 184.9 L504.4 184.7 L505.4 184.5 L506.4 184.4 L507.4 184.3 L508.3 184.2 L509.2 184.1 L510 184 L510.8 183.9 L511.5 183.9 L512.3 183.9 L513 184 L513.7 184.1 L514.5 184.3 L515.2 184.6 L516 184.9 L516.9 185.4 L517.8 186 L518.7 186.6 L519.6 187.3 L520.6 188.1 L521.5 188.9 L522.5 189.9 L523.5 190.9 L524.4 191.9 L525.4 193 L526.4 194.2 L527.4 195.5 L528.3 196.8 L529.3 198.2 L530.2 199.7 L531.2 201.3 L532.1 203 L533.1 204.8 L534 206.6 L535 208.4 L535.9 210.3 L536.9 212.2 L537.8 214 L538.8 215.9 L539.7 217.7 L540.7 219.6 L541.6 221.4 L542.6 223.3 L543.5 225.2 L544.5 227.1 L545.4 229 L546.4 231 L547.3 232.9 L548.3 234.8 L549.2 236.7 L550.2 238.7 L551.1 240.6 L552.1 242.5 L553 244.4 L554 246.3 L554.9 248.2 L555.9 250.1 L556.8 252 L557.8 253.9 L558.8 255.8 L559.7 257.7 L560.7 259.6 L561.6 261.5 L562.6 263.4 L563.5 265.3 L564.5 267.3 L565.5 269.2 L566.5 271.2 L567.5 273.2 L568.5 275.2 L569.5 277.1 L570.4 279 L571.4 280.9 L572.3 282.8 L573.2 284.5 L574 286.2 L574.7 287.9 L575.5 289.4 L576.1 290.9 L576.8 292.4 L577.4 293.8 L578 295.2 L578.6 296.5 L579.2 297.9 L579.8 299.2 L580.4 300.6 L581 301.9 L581.6 303.4" stroke="#7a1c1c" stroke-width="1.6" fill="none"/>
<circle cx="367.7" cy="190" r="2.5" fill="#868686"/>
<circle cx="367.7" cy="203.3" r="2.5" fill="#868686"/>
<circle cx="386.8" cy="185.4" r="2.5" fill="#868686"/>
<circle cx="386.8" cy="188.1" r="2.5" fill="#868686"/>
<circle cx="408.4" cy="180.8" r="2.5" fill="#868686"/>
<circle cx="408.4" cy="183.5" r="2.5" fill="#868686"/>
<circle cx="435.1" cy="181.6" r="2.5" fill="#868686"/>
<circle cx="435.1" cy="189.2" r="2.5" fill="#868686"/>
<circle cx="461.7" cy="180.4" r="2.5" fill="#868686"/>
<circle cx="461.7" cy="187.3" r="2.5" fill="#868686"/>
<circle cx="540.5" cy="307.2" r="2.5" fill="#868686"/>
<circle cx="540.5" cy="309.1" r="2.5" fill="#868686"/>
<circle cx="561.8" cy="283.6" r="2.5" fill="#868686"/>
<circle cx="561.8" cy="300.3" r="2.5" fill="#868686"/>
<circle cx="581.6" cy="299.6" r="2.5" fill="#868686"/>
<circle cx="581.6" cy="301.5" r="2.5" fill="#868686"/>
<circle cx="408.4" cy="204.4" r="2.5" fill="#7a1c1c"/>
<circle cx="435.1" cy="206.3" r="2.5" fill="#7a1c1c"/>
<circle cx="461.7" cy="200.6" r="2.5" fill="#7a1c1c"/>
<circle cx="487.6" cy="198.7" r="2.5" fill="#7a1c1c"/>
<circle cx="514.2" cy="180.8" r="2.5" fill="#7a1c1c"/>
<circle cx="540.5" cy="189.2" r="2.5" fill="#7a1c1c"/>
<circle cx="540.5" cy="221.5" r="2.5" fill="#7a1c1c"/>
<circle cx="561.8" cy="231.8" r="2.5" fill="#7a1c1c"/>
<circle cx="561.8" cy="255.8" r="2.5" fill="#7a1c1c"/>
<circle cx="581.6" cy="308.3" r="2.5" fill="#7a1c1c"/>

</g></g>
<g>
<clipPath id="cc3"><path d="M262 210.2 L531 210.2 L531 446.2 L262 446.2Z"/></clipPath>
<path d="M262 210.2 L531 210.2 L531 446.2 L262 446.2Z" fill="#fff" stroke="#000" stroke-width="2.6" stroke-linejoin="miter"/>
<g clip-path="url(#cc3)">
<line x1="293.7" y1="227.3" x2="293.7" y2="419.5" stroke="#111" stroke-width="2"/>
<line x1="293.7" y1="419.5" x2="528.4" y2="419.5" stroke="#000" stroke-width="1.2"/>
<path d="M303.9 257.8 L305.6 257 L307.2 256.1 L308.8 255.2 L310.5 254.3 L312.1 253.4 L313.7 252.6 L315.4 251.7 L317 250.9 L318.7 250.1 L320.3 249.4 L322 248.8 L323.7 248.3 L325.4 247.8 L327.2 247.5 L329 247.2 L330.7 246.9 L332.5 246.7 L334.3 246.6 L336.1 246.5 L337.9 246.4 L339.7 246.4 L341.4 246.4 L343 246.4 L344.6 246.4 L346.2 246.4 L347.8 246.6 L349.3 246.8 L350.8 247 L352.3 247.3 L353.8 247.6 L355.2 247.8 L356.6 248.1 L358 248.2 L359.3 248.4 L360.6 248.4 L361.8 248.3 L362.9 248.1 L364 247.8 L365 247.4 L365.9 247 L366.8 246.5 L367.7 245.9 L368.6 245.4 L369.4 244.8 L370.3 244.2 L371.2 243.6 L372.2 243.1 L373.2 242.6 L374.2 242 L375.3 241.4 L376.5 240.8 L377.6 240.1 L378.8 239.4 L380 238.7 L381.1 238.1 L382.3 237.5 L383.4 237 L384.5 236.6 L385.5 236.3 L386.5 236.1 L387.4 236 L388.3 236 L389.2 236 L390 236.2 L390.8 236.3 L391.6 236.6 L392.4 236.9 L393.1 237.4 L393.9 237.9 L394.6 238.4 L395.3 239.1 L396 239.9 L396.7 240.8 L397.4 241.8 L398 242.9 L398.7 244.1 L399.3 245.4 L399.9 246.7 L400.5 248.1 L401.2 249.6 L401.8 251.1 L402.4 252.7 L403 254.3 L403.6 255.9 L404.2 257.5 L404.8 259.1 L405.4 260.7 L406 262.3 L406.6 263.9 L407.2 265.7 L407.8 267.5 L408.4 269.4 L409.1 271.5 L409.7 273.7 L410.5 276.1 L411.2 278.7 L412 281.5 L412.9 284.6 L413.7 287.8 L414.6 291.3 L415.5 294.8 L416.5 298.5 L417.4 302.2 L418.4 305.9 L419.4 309.7 L420.5 313.4 L421.6 317 L422.6 320.6 L423.8 324.1 L425 327.8 L426.2 331.6 L427.4 335.4 L428.7 339.3 L430 343 L431.3 346.7 L432.7 350.3 L434 353.7 L435.3 356.9 L436.6 359.8 L437.9 362.4 L439.1 364.8 L440.4 366.9 L441.6 368.8 L442.9 370.5 L444.1 372.1 L445.4 373.5 L446.6 374.7 L447.9 375.9 L449.2 376.9 L450.4 377.9 L451.8 378.7 L453.1 379.6 L454.4 380.2 L455.7 380.8 L457.1 381.1 L458.4 381.4 L459.7 381.5 L461.1 381.6 L462.4 381.6 L463.9 381.5 L465.4 381.5 L466.9 381.4 L468.5 381.4 L470.2 381.5 L472 381.5 L473.9 381.5 L475.9 381.5 L477.9 381.5 L480 381.5 L482.1 381.5 L484.3 381.4 L486.4 381.4 L488.6 381.4 L490.7 381.4 L492.9 381.4 L494.9 381.5 L497 381.5 L499.1 381.7 L501.1 381.8 L503.2 381.9 L505.3 382.1 L507.3 382.3 L509.4 382.5 L511.4 382.7 L513.5 382.8 L515.6 383 L517.6 383.2 L519.7 383.4 L519.7 406.2 L517.6 406 L515.6 405.7 L513.5 405.5 L511.4 405.2 L509.4 405 L507.3 404.8 L505.3 404.5 L503.2 404.3 L501.1 404.1 L499.1 403.9 L497 403.7 L494.9 403.5 L492.9 403.4 L490.7 403.2 L488.6 403.1 L486.4 403 L484.3 402.9 L482.1 402.8 L480 402.7 L477.9 402.6 L475.9 402.6 L473.9 402.5 L472 402.4 L470.2 402.4 L468.5 402.4 L466.9 402.4 L465.4 402.5 L463.9 402.6 L462.4 402.8 L461.1 402.9 L459.7 403 L458.4 403 L457.1 403 L455.7 402.9 L454.4 402.7 L453.1 402.4 L451.8 402 L450.4 401.6 L449.2 401.3 L447.9 400.8 L446.6 400.3 L445.4 399.8 L444.1 399.1 L442.9 398.2 L441.6 397.2 L440.4 396 L439.1 394.6 L437.9 392.9 L436.6 390.9 L435.3 388.7 L434 386.3 L432.7 383.7 L431.3 380.9 L430 378 L428.7 375 L427.4 371.8 L426.2 368.6 L425 365.3 L423.8 362 L422.6 358.6 L421.5 355.1 L420.5 351.4 L419.4 347.5 L418.3 343.4 L417.3 339.2 L416.3 335.1 L415.4 330.9 L414.5 326.9 L413.6 323 L412.8 319.4 L412 316 L411.2 313 L410.6 310.2 L410 307.7 L409.4 305.5 L408.9 303.4 L408.5 301.4 L408 299.6 L407.6 297.9 L407.2 296.3 L406.8 294.8 L406.4 293.2 L406 291.7 L405.5 290.1 L405.1 288.6 L404.6 287.1 L404.1 285.7 L403.7 284.3 L403.2 283 L402.8 281.7 L402.3 280.5 L401.9 279.3 L401.4 278.1 L400.9 277 L400.4 276 L399.8 274.9 L399.3 273.9 L398.7 272.8 L398.2 271.8 L397.7 270.8 L397.2 269.8 L396.6 268.8 L396 268 L395.4 267.2 L394.7 266.6 L393.9 266 L393.1 265.6 L392.2 265.4 L391.2 265.3 L390.1 265.5 L388.9 265.8 L387.7 266.2 L386.4 266.7 L385.1 267.3 L383.7 268 L382.3 268.6 L381 269.3 L379.6 270 L378.3 270.6 L377 271.1 L375.7 271.6 L374.5 272.2 L373.2 272.8 L372 273.4 L370.7 274 L369.5 274.6 L368.2 275.1 L367 275.6 L365.7 276.1 L364.4 276.4 L363.1 276.7 L361.8 276.8 L360.4 276.8 L359.1 276.6 L357.7 276.4 L356.3 276 L355 275.5 L353.6 275 L352.1 274.5 L350.7 274.1 L349.2 273.6 L347.7 273.3 L346.2 273.1 L344.6 273 L343 273.1 L341.4 273.2 L339.7 273.4 L337.9 273.6 L336.1 274 L334.3 274.3 L332.5 274.7 L330.7 275.1 L329 275.5 L327.2 276 L325.4 276.4 L323.7 276.8 L322 277.2 L320.3 277.7 L318.7 278.1 L317 278.6 L315.4 279.1 L313.7 279.5 L312.1 280 L310.5 280.5 L308.8 281 L307.2 281.5 L305.6 282 L303.9 282.5Z" fill="#8a8a8a" fill-opacity="0.24"/>
<path d="M303.9 273 L306.3 271.7 L308.7 270.4 L311.1 269 L313.6 267.6 L316.1 266.2 L318.5 264.8 L320.9 263.5 L323.2 262.2 L325.5 260.9 L327.6 259.8 L329.5 258.7 L331.3 257.8 L332.9 256.9 L334.4 256.2 L335.6 255.4 L336.8 254.8 L337.9 254.2 L338.9 253.6 L339.8 253.2 L340.7 252.8 L341.6 252.5 L342.6 252.3 L343.6 252.1 L344.6 252.1 L345.8 252.2 L346.9 252.4 L348 252.7 L349.1 253.1 L350.2 253.6 L351.3 254.2 L352.4 254.8 L353.5 255.5 L354.6 256.1 L355.7 256.7 L356.9 257.3 L358 257.8 L359.1 258.3 L360.2 258.9 L361.3 259.5 L362.4 260.2 L363.5 260.8 L364.6 261.5 L365.7 262.1 L366.8 262.6 L367.9 263 L369.1 263.3 L370.2 263.5 L371.3 263.5 L372.4 263.3 L373.5 263 L374.6 262.6 L375.7 262 L376.8 261.4 L377.9 260.6 L379 259.9 L380.2 259.1 L381.3 258.2 L382.4 257.4 L383.5 256.6 L384.6 255.9 L385.7 255.1 L386.9 254.3 L388 253.5 L389.2 252.6 L390.3 251.7 L391.5 250.8 L392.6 249.9 L393.8 249.1 L394.9 248.3 L395.9 247.6 L396.9 246.9 L397.9 246.4 L398.8 245.9 L399.7 245.4 L400.5 245 L401.3 244.6 L402.1 244.2 L402.8 243.9 L403.5 243.7 L404.3 243.5 L405 243.4 L405.8 243.4 L406.6 243.5 L407.4 243.7 L408.3 244.1 L409.2 244.6 L410.1 245.4 L411.1 246.2 L412 247.1 L413 248.1 L414 249 L415 249.9 L415.9 250.7 L416.9 251.4 L417.9 251.8 L418.8 252.1 L419.8 252.1 L420.7 252 L421.7 251.7 L422.6 251.3 L423.6 250.8 L424.6 250.2 L425.5 249.6 L426.5 248.9 L427.4 248.3 L428.4 247.6 L429.3 247 L430.3 246.4 L431.2 245.8 L432.2 245.1 L433.1 244.3 L434.1 243.6 L435 242.8 L436 242 L436.9 241.2 L437.9 240.5 L438.8 239.9 L439.8 239.4 L440.7 239 L441.7 238.8 L442.6 238.7 L443.6 238.6 L444.5 238.7 L445.5 238.9 L446.4 239.2 L447.4 239.5 L448.3 239.9 L449.3 240.3 L450.2 240.8 L451.2 241.4 L452.1 241.9 L453.1 242.6 L454 243.2 L455 243.9 L455.9 244.6 L456.9 245.4 L457.8 246.2 L458.8 247.1 L459.7 248 L460.7 249 L461.7 250.1 L462.6 251.3 L463.6 252.6 L464.5 254 L465.5 255.5 L466.4 257.1 L467.4 258.8 L468.3 260.6 L469.3 262.5 L470.2 264.4 L471.2 266.5 L472.1 268.5 L473.1 270.6 L474 272.7 L475 274.7 L475.9 276.8 L476.9 278.9 L477.8 281 L478.8 283.2 L479.7 285.4 L480.7 287.6 L481.6 289.9 L482.6 292.2 L483.5 294.4 L484.5 296.7 L485.4 299 L486.4 301.2 L487.3 303.4 L488.3 305.7 L489.2 307.9 L490.2 310.1 L491.1 312.3 L492.1 314.4 L493 316.6 L494 318.9 L494.9 321.1 L495.9 323.3 L496.8 325.5 L497.8 327.8 L498.8 330.1 L499.7 332.4 L500.7 334.8 L501.7 337.2 L502.6 339.7 L503.6 342.1 L504.6 344.6 L505.5 347 L506.5 349.5 L507.4 351.8 L508.4 354.2 L509.3 356.4 L510.2 358.6 L511 360.7 L511.9 362.8 L512.7 364.7 L513.5 366.7 L514.3 368.5 L515 370.4 L515.8 372.2 L516.6 374.1 L517.3 375.9 L518.1 377.7 L518.9 379.6 L519.7 381.5 L519.7 408.1 L518.6 405.6 L517.4 403 L516.3 400.5 L515.2 397.9 L514 395.4 L512.9 392.9 L511.8 390.3 L510.7 387.8 L509.6 385.3 L508.5 382.7 L507.4 380.2 L506.4 377.6 L505.3 375.1 L504.3 372.5 L503.4 369.9 L502.4 367.4 L501.5 364.8 L500.5 362.2 L499.6 359.6 L498.7 357.1 L497.8 354.5 L496.8 352.1 L495.9 349.6 L494.9 347.2 L494 344.8 L493 342.5 L492.1 340.2 L491.1 338 L490.2 335.7 L489.2 333.5 L488.3 331.3 L487.3 329.2 L486.4 327 L485.4 324.9 L484.5 322.7 L483.5 320.6 L482.6 318.4 L481.6 316.3 L480.7 314.1 L479.7 312 L478.8 309.8 L477.8 307.7 L476.9 305.6 L475.9 303.6 L475 301.6 L474 299.6 L473.1 297.7 L472.1 295.8 L471.2 294 L470.2 292.2 L469.3 290.4 L468.3 288.6 L467.4 286.9 L466.4 285.3 L465.5 283.6 L464.5 282.1 L463.6 280.6 L462.6 279.3 L461.7 278 L460.7 276.8 L459.7 275.7 L458.8 274.8 L457.8 273.8 L456.9 273 L455.9 272.3 L455 271.6 L454 271 L453.1 270.5 L452.1 270 L451.2 269.7 L450.2 269.4 L449.3 269.2 L448.3 269.1 L447.4 269.1 L446.5 269.3 L445.5 269.5 L444.6 269.8 L443.7 270.2 L442.8 270.6 L441.8 271 L440.9 271.5 L439.9 272 L438.9 272.5 L437.9 273 L436.8 273.5 L435.8 274.2 L434.7 274.9 L433.6 275.6 L432.5 276.4 L431.3 277.2 L430.2 277.9 L429.1 278.6 L427.9 279.3 L426.8 279.9 L425.7 280.3 L424.6 280.6 L423.4 280.8 L422.3 280.9 L421.2 280.9 L420.1 280.8 L419 280.6 L417.9 280.4 L416.8 280.1 L415.7 279.8 L414.6 279.5 L413.5 279.3 L412.3 279 L411.2 278.7 L410.1 278.4 L409 278 L407.9 277.6 L406.8 277.1 L405.7 276.6 L404.6 276.1 L403.5 275.6 L402.4 275.3 L401.2 275 L400.1 274.8 L399 274.8 L397.9 274.9 L396.8 275.2 L395.7 275.8 L394.6 276.4 L393.5 277.2 L392.4 278.1 L391.3 279.1 L390.1 280.1 L389 281 L387.9 282 L386.8 282.9 L385.7 283.7 L384.6 284.4 L383.5 285.1 L382.4 285.7 L381.3 286.3 L380.2 287 L379 287.6 L377.9 288.1 L376.8 288.6 L375.7 289.1 L374.6 289.5 L373.5 289.8 L372.4 290 L371.3 290.1 L370.2 290.2 L369.1 290.1 L367.9 289.9 L366.8 289.6 L365.7 289.3 L364.6 288.9 L363.5 288.5 L362.4 288.1 L361.3 287.6 L360.2 287.2 L359.1 286.7 L358 286.3 L356.9 285.9 L355.7 285.4 L354.6 284.8 L353.5 284.2 L352.4 283.6 L351.3 283 L350.2 282.4 L349.1 281.9 L348 281.4 L346.9 281 L345.8 280.8 L344.6 280.6 L343.5 280.6 L342.4 280.6 L341.4 280.8 L340.3 281 L339.2 281.2 L338.1 281.6 L337 281.9 L335.9 282.4 L334.8 282.8 L333.7 283.3 L332.5 283.9 L331.3 284.4 L330.1 285 L328.9 285.7 L327.6 286.5 L326.3 287.4 L325 288.3 L323.6 289.2 L322.3 290.1 L321 291 L319.7 291.8 L318.5 292.6 L317.3 293.3 L316.1 293.9 L315 294.5 L313.9 294.9 L312.8 295.3 L311.8 295.6 L310.8 295.9 L309.8 296.2 L308.8 296.4 L307.9 296.7 L306.9 296.9 L305.9 297.2 L304.9 297.4 L303.9 297.7Z" fill="#7a1c1c" fill-opacity="0.19"/>
<path d="M413.5 264.1 L415.5 264.7 L417.5 265.3 L419.5 265.8 L422.5 266.2 L424.5 266.2 L426.5 265.7 L428.5 264.8 L430.5 263.8 L432.5 262.6 L434.5 261.4 L436.5 260.3 L438.5 259.4 L441.5 258 L443.5 257 L445.5 256.2 L447.5 255.5 L449.5 255.1 L451.5 255.2 L453.5 255.9 L456.5 258.2 L458.5 260.5 L460.5 263.2 L462.5 266.2 L464.5 269.6 L466.5 273.3 L468.5 277.2 L470.5 281.2 L472.5 285.2 L475.5 291.4 L477.5 295.7 L479.5 300.1 L481.5 304.6 L483.5 309.1 L485.5 313.6 L487.5 318.1 L490.5 325.1 L492.5 329.8 L494.5 334.7 L496.5 339.7 L498.5 345 L500.5 350.4 L502.5 355.8 L504.5 361.2 L506.5 366.6 L506.5 393.1 L504.5 392.8 L502.5 392.6 L500.5 392.3 L498.5 392.1 L496.5 391.8 L494.5 391.4 L492.5 391.1 L490.5 390.7 L487.5 390.2 L485.5 390 L483.5 389.8 L481.5 389.8 L479.5 389.9 L477.5 390.1 L475.5 390.4 L472.5 390.8 L470.5 390.9 L468.5 391.1 L466.5 391.2 L464.5 391.3 L462.5 391.2 L460.5 390.9 L458.5 390.7 L456.5 390.5 L453.5 389.9 L451.5 388.9 L449.5 387.3 L447.5 385.4 L445.5 383.3 L443.5 381.1 L441.5 378.5 L438.5 374.2 L436.5 370.9 L434.5 367.1 L432.5 362.8 L430.5 358 L428.5 352.9 L426.5 347.4 L424.5 341.6 L422.5 335.7 L419.5 326.4 L417.5 319.9 L415.5 312.8 L413.5 305Z" fill="#4559a5" fill-opacity="0.07"/>
<path d="M413.5 264.1V305M415.5 264.7V312.8M417.5 265.3V319.9M419.5 265.8V326.4M422.5 266.2V335.7M424.5 266.2V341.6M426.5 265.7V347.4M428.5 264.8V352.9M430.5 263.8V358M432.5 262.6V362.8M434.5 261.4V367.1M436.5 260.3V370.9M438.5 259.4V374.2M441.5 258V378.5M443.5 257V381.1M445.5 256.2V383.3M447.5 255.5V385.4M449.5 255.1V387.3M451.5 255.2V388.9M453.5 255.9V389.9M456.5 258.2V390.5M458.5 260.5V390.7M460.5 263.2V390.9M462.5 266.2V391.2M464.5 269.6V391.3M466.5 273.3V391.2M468.5 277.2V391.1M470.5 281.2V390.9M472.5 285.2V390.8M475.5 291.4V390.4M477.5 295.7V390.1M479.5 300.1V389.9M481.5 304.6V389.8M483.5 309.1V389.8M485.5 313.6V390M487.5 318.1V390.2M490.5 325.1V390.7M492.5 329.8V391.1M494.5 334.7V391.4M496.5 339.7V391.8M498.5 345V392.1M500.5 350.4V392.3M502.5 355.8V392.6M504.5 361.2V392.8M506.5 366.6V393.1" stroke="#4f65ac" stroke-width="1" fill="none"/>
<path d="M303.9 270.3 L304.9 269.9 L305.9 269.5 L306.9 269.1 L307.9 268.6 L308.8 268.2 L309.8 267.7 L310.8 267.3 L311.8 266.9 L312.8 266.5 L313.9 266.1 L315 265.7 L316.1 265.4 L317.3 265.1 L318.5 264.8 L319.7 264.5 L321 264.3 L322.3 264 L323.6 263.8 L325 263.6 L326.3 263.4 L327.6 263.2 L328.9 263 L330.1 262.9 L331.3 262.7 L332.5 262.6 L333.7 262.5 L334.8 262.4 L335.9 262.4 L337 262.3 L338.1 262.3 L339.2 262.3 L340.3 262.3 L341.4 262.3 L342.4 262.3 L343.5 262.3 L344.6 262.4 L345.8 262.4 L346.9 262.5 L348 262.6 L349.1 262.8 L350.2 263 L351.3 263.1 L352.4 263.3 L353.5 263.4 L354.6 263.5 L355.7 263.6 L356.9 263.6 L358 263.5 L359.1 263.4 L360.2 263.2 L361.3 263 L362.4 262.7 L363.5 262.4 L364.6 262.1 L365.7 261.7 L366.8 261.4 L367.9 261 L369.1 260.6 L370.2 260.1 L371.3 259.7 L372.4 259.2 L373.5 258.7 L374.7 258 L375.9 257.4 L377 256.7 L378.2 256.1 L379.3 255.4 L380.4 254.8 L381.5 254.2 L382.6 253.7 L383.6 253.2 L384.6 252.8 L385.5 252.5 L386.4 252.3 L387.3 252.1 L388.2 251.9 L389 251.8 L389.8 251.7 L390.6 251.6 L391.4 251.6 L392.1 251.7 L392.8 251.8 L393.5 251.9 L394.1 252.1 L394.7 252.3 L395.3 252.5 L395.8 252.8 L396.3 253.1 L396.8 253.4 L397.2 253.8 L397.6 254.3 L398.1 254.8 L398.5 255.4 L398.9 256.1 L399.4 256.9 L399.8 257.8 L400.3 258.8 L400.8 260 L401.3 261.4 L401.8 262.8 L402.3 264.3 L402.8 265.9 L403.3 267.5 L403.8 269.1 L404.2 270.6 L404.7 272.1 L405.1 273.6 L405.5 274.9 L405.9 276.1 L406.2 277.1 L406.5 278 L406.7 278.8 L407 279.6 L407.2 280.4 L407.4 281.3 L407.7 282.2 L408 283.4 L408.4 284.7 L408.8 286.3 L409.3 288.2 L409.9 290.4 L410.5 292.9 L411.2 295.5 L411.9 298.4 L412.6 301.4 L413.4 304.5 L414.2 307.8 L415 311.1 L415.9 314.4 L416.9 317.8 L417.8 321.1 L418.8 324.4 L419.9 327.7 L421 331.3 L422.2 334.9 L423.5 338.7 L424.8 342.5 L426.1 346.3 L427.4 350 L428.8 353.6 L430.1 357.1 L431.5 360.4 L432.8 363.5 L434.1 366.2 L435.3 368.8 L436.6 371.1 L438 373.3 L439.3 375.4 L440.6 377.3 L441.9 379.1 L443.2 380.7 L444.5 382.2 L445.7 383.6 L447 384.9 L448.1 386.1 L449.3 387.2 L450.4 388.1 L451.4 388.8 L452.5 389.4 L453.4 389.8 L454.4 390.2 L455.3 390.4 L456.3 390.5 L457.2 390.6 L458.1 390.7 L459 390.8 L459.8 390.8 L460.7 391 L461.5 391.1 L462.4 391.2 L463.1 391.3 L463.9 391.3 L464.6 391.3 L465.3 391.3 L466.1 391.2 L466.8 391.2 L467.6 391.1 L468.4 391.1 L469.3 391 L470.2 391 L471.2 390.9 L472.2 390.8 L473.2 390.7 L474.3 390.5 L475.4 390.4 L476.5 390.3 L477.7 390.1 L478.8 390 L480 389.9 L481.2 389.8 L482.3 389.8 L483.5 389.8 L484.7 389.9 L486 390 L487.2 390.2 L488.5 390.4 L489.7 390.6 L491 390.8 L492.3 391 L493.6 391.3 L494.9 391.5 L496.2 391.7 L497.5 391.9 L498.8 392.1 L500.1 392.3 L501.4 392.4 L502.8 392.6 L504.2 392.8 L505.6 393 L507 393.1 L508.3 393.3 L509.6 393.4 L510.8 393.5 L512 393.6 L513 393.6 L514 393.6 L514.8 393.6 L515.5 393.6 L516.1 393.5 L516.6 393.3 L517 393.2 L517.4 393.1 L517.8 392.9 L518.1 392.7 L518.5 392.6 L518.8 392.4 L519.2 392.2 L519.7 392.1" stroke="#868686" stroke-width="1.6" fill="none"/>
<path d="M303.9 289.4 L305.1 289.1 L306.3 288.8 L307.4 288.5 L308.6 288.3 L309.8 288 L310.9 287.8 L312.1 287.5 L313.3 287.2 L314.5 286.9 L315.6 286.5 L316.8 286.1 L318 285.6 L319.2 285 L320.4 284.4 L321.6 283.8 L322.9 283.2 L324.1 282.5 L325.4 281.7 L326.6 281 L327.8 280.2 L329 279.4 L330.2 278.5 L331.3 277.7 L332.5 276.8 L333.6 275.8 L334.6 274.7 L335.6 273.5 L336.7 272.2 L337.6 270.9 L338.6 269.6 L339.6 268.3 L340.6 267.1 L341.6 266.1 L342.6 265.3 L343.6 264.6 L344.6 264.3 L345.7 264.1 L346.8 264.3 L347.9 264.6 L349 265.1 L350.1 265.8 L351.2 266.5 L352.4 267.3 L353.5 268.1 L354.6 269 L355.7 269.8 L356.8 270.5 L358 271.1 L359.1 271.7 L360.2 272.4 L361.3 273.1 L362.4 273.8 L363.5 274.5 L364.6 275.2 L365.7 275.8 L366.8 276.4 L367.9 276.9 L369.1 277.2 L370.2 277.5 L371.3 277.6 L372.4 277.5 L373.5 277.3 L374.6 277 L375.7 276.5 L376.8 276 L377.9 275.4 L379 274.8 L380.2 274 L381.3 273.3 L382.4 272.6 L383.5 271.8 L384.6 271.1 L385.7 270.3 L386.8 269.4 L387.9 268.4 L389 267.4 L390.1 266.3 L391.3 265.2 L392.4 264.1 L393.5 263.1 L394.6 262.2 L395.7 261.5 L396.8 260.9 L397.9 260.4 L399 260.2 L400.1 260.2 L401.2 260.3 L402.4 260.5 L403.5 260.8 L404.6 261.1 L405.7 261.6 L406.8 262 L407.9 262.4 L409 262.8 L410.1 263.2 L411.2 263.5 L412.3 263.8 L413.5 264.1 L414.6 264.4 L415.7 264.7 L416.8 265.1 L417.9 265.4 L419 265.7 L420.1 266 L421.2 266.1 L422.3 266.2 L423.4 266.3 L424.6 266.2 L425.7 265.9 L426.8 265.6 L427.9 265.1 L429 264.6 L430.1 264 L431.2 263.4 L432.3 262.7 L433.4 262 L434.5 261.4 L435.6 260.8 L436.8 260.2 L437.9 259.7 L439 259.2 L440.1 258.7 L441.3 258.1 L442.4 257.5 L443.6 257 L444.8 256.5 L445.9 256 L447 255.6 L448.1 255.3 L449.2 255.1 L450.2 255 L451.2 255.1 L452.1 255.3 L453 255.6 L453.8 256 L454.6 256.5 L455.3 257.1 L456.1 257.7 L456.8 258.5 L457.5 259.3 L458.3 260.2 L459 261.2 L459.9 262.3 L460.7 263.5 L461.6 264.8 L462.5 266.2 L463.4 267.8 L464.4 269.4 L465.3 271.1 L466.3 272.9 L467.3 274.8 L468.2 276.7 L469.2 278.6 L470.2 280.6 L471.2 282.5 L472.1 284.4 L473.1 286.3 L474 288.3 L475 290.3 L475.9 292.3 L476.9 294.4 L477.8 296.4 L478.8 298.5 L479.7 300.6 L480.7 302.7 L481.6 304.9 L482.6 307 L483.5 309.2 L484.5 311.3 L485.4 313.4 L486.4 315.6 L487.3 317.8 L488.3 319.9 L489.2 322.1 L490.2 324.3 L491.1 326.6 L492.1 328.8 L493 331.1 L494 333.4 L494.9 335.8 L495.9 338.2 L496.8 340.6 L497.8 343.1 L498.8 345.7 L499.7 348.2 L500.7 350.8 L501.6 353.4 L502.6 355.9 L503.5 358.5 L504.5 361.1 L505.4 363.7 L506.4 366.2 L507.3 368.8 L508.3 371.3 L509.2 373.8 L510.2 376.4 L511.1 378.9 L512.1 381.5 L513 384 L514 386.5 L514.9 389.1 L515.9 391.6 L516.8 394.1 L517.8 396.7" stroke="#7a1c1c" stroke-width="1.6" fill="none"/>
<circle cx="303.9" cy="265.4" r="2.5" fill="#868686"/>
<circle cx="323.7" cy="262.7" r="2.5" fill="#868686"/>
<circle cx="323.7" cy="274.1" r="2.5" fill="#868686"/>
<circle cx="344.6" cy="256.6" r="2.5" fill="#868686"/>
<circle cx="344.6" cy="259.7" r="2.5" fill="#868686"/>
<circle cx="371.3" cy="255.1" r="2.5" fill="#868686"/>
<circle cx="371.3" cy="266.2" r="2.5" fill="#868686"/>
<circle cx="397.9" cy="255.1" r="2.5" fill="#868686"/>
<circle cx="477.8" cy="390.2" r="2.5" fill="#868686"/>
<circle cx="477.8" cy="392.1" r="2.5" fill="#868686"/>
<circle cx="498.8" cy="387.2" r="2.5" fill="#868686"/>
<circle cx="498.8" cy="396.7" r="2.5" fill="#868686"/>
<circle cx="518.5" cy="392.1" r="2.5" fill="#868686"/>
<circle cx="303.9" cy="278.7" r="2.5" fill="#7a1c1c"/>
<circle cx="323.7" cy="288.2" r="2.5" fill="#7a1c1c"/>
<circle cx="344.6" cy="263.5" r="2.5" fill="#7a1c1c"/>
<circle cx="344.6" cy="269.2" r="2.5" fill="#7a1c1c"/>
<circle cx="371.3" cy="273.8" r="2.5" fill="#7a1c1c"/>
<circle cx="371.3" cy="283.7" r="2.5" fill="#7a1c1c"/>
<circle cx="397.9" cy="260.8" r="2.5" fill="#7a1c1c"/>
<circle cx="424.6" cy="264.6" r="2.5" fill="#7a1c1c"/>
<circle cx="424.6" cy="270.3" r="2.5" fill="#7a1c1c"/>
<circle cx="451.2" cy="255.1" r="2.5" fill="#7a1c1c"/>
<circle cx="477.8" cy="287.1" r="2.5" fill="#7a1c1c"/>
<circle cx="477.8" cy="301.5" r="2.5" fill="#7a1c1c"/>
<circle cx="498.8" cy="341.5" r="2.5" fill="#7a1c1c"/>
<circle cx="498.8" cy="344.2" r="2.5" fill="#7a1c1c"/>
<circle cx="517.8" cy="396.7" r="2.5" fill="#7a1c1c"/>

</g></g>
<g>
<clipPath id="cc2"><path d="M198.3 291.2 L467.6 291.2 L467.6 528.2 L198.3 528.2Z"/></clipPath>
<path d="M198.3 291.2 L467.6 291.2 L467.6 528.2 L198.3 528.2Z" fill="#fff" stroke="#000" stroke-width="2.6" stroke-linejoin="miter"/>
<g clip-path="url(#cc2)">
<line x1="230.6" y1="307.4" x2="230.6" y2="500" stroke="#111" stroke-width="1.2"/>
<line x1="230.6" y1="500" x2="465.4" y2="500" stroke="#000" stroke-width="2"/>
<path d="M240.9 337.1 L242.8 336.4 L244.7 335.6 L246.6 334.8 L248.5 333.9 L250.4 333.1 L252.3 332.3 L254.2 331.5 L256.1 330.8 L258 330.2 L259.9 329.6 L261.8 329.1 L263.7 328.7 L265.6 328.4 L267.6 328.3 L269.6 328.2 L271.6 328.2 L273.6 328.3 L275.6 328.4 L277.6 328.6 L279.5 328.8 L281.4 329 L283.2 329.2 L284.9 329.3 L286.5 329.5 L288.1 329.6 L289.6 329.8 L291 330.1 L292.3 330.4 L293.6 330.7 L294.9 330.9 L296.1 331.2 L297.3 331.4 L298.4 331.5 L299.5 331.6 L300.7 331.5 L301.8 331.4 L302.9 331.1 L303.9 330.6 L304.9 330.1 L305.9 329.5 L306.8 328.8 L307.7 328.1 L308.6 327.3 L309.5 326.6 L310.4 325.8 L311.3 325.1 L312.2 324.4 L313.2 323.8 L314.1 323.1 L315.1 322.5 L316 321.8 L317 321.1 L317.9 320.4 L318.9 319.8 L319.8 319.1 L320.8 318.6 L321.7 318.1 L322.7 317.7 L323.6 317.4 L324.6 317.3 L325.6 317.2 L326.5 317.2 L327.5 317.3 L328.5 317.5 L329.5 317.7 L330.5 318 L331.5 318.4 L332.5 318.9 L333.4 319.4 L334.3 320.1 L335.2 320.9 L336 321.9 L336.8 322.9 L337.5 324.2 L338.2 325.6 L338.9 327.1 L339.5 328.7 L340.2 330.3 L340.8 332.1 L341.4 333.9 L341.9 335.7 L342.5 337.4 L343.1 339.2 L343.6 340.9 L344.1 342.5 L344.6 344 L345 345.4 L345.4 346.9 L345.8 348.3 L346.1 349.8 L346.5 351.4 L346.9 353.1 L347.4 354.9 L348 357 L348.6 359.3 L349.3 361.8 L350.2 364.7 L351.1 367.8 L352.1 371.3 L353.1 374.9 L354.2 378.7 L355.4 382.6 L356.6 386.6 L357.8 390.6 L359 394.5 L360.2 398.3 L361.4 402.1 L362.6 405.6 L363.9 409 L365.1 412.5 L366.3 416 L367.6 419.5 L368.9 422.9 L370.1 426.3 L371.4 429.5 L372.7 432.7 L374 435.7 L375.3 438.6 L376.6 441.2 L377.9 443.6 L379.1 445.8 L380.4 447.9 L381.7 449.7 L383 451.4 L384.3 453 L385.6 454.4 L386.9 455.7 L388.2 456.9 L389.4 458 L390.7 459 L391.9 459.9 L393.1 460.7 L394.2 461.4 L395.3 462 L396.3 462.4 L397.2 462.6 L398.2 462.8 L399.2 462.9 L400.1 462.9 L401.2 462.9 L402.3 462.8 L403.5 462.7 L404.9 462.7 L406.4 462.6 L408.1 462.6 L409.9 462.6 L411.8 462.4 L413.8 462.3 L416 462.1 L418.1 461.9 L420.3 461.7 L422.6 461.5 L424.8 461.3 L427 461.1 L429.1 460.9 L431.1 460.7 L433.1 460.6 L435.1 460.4 L437.1 460.3 L439.1 460.1 L441.1 460 L443 459.8 L445 459.6 L446.9 459.5 L448.9 459.3 L450.8 459.2 L452.8 459 L454.7 458.8 L454.7 485.5 L452.8 485.2 L450.8 484.8 L448.9 484.5 L446.9 484.2 L445 483.9 L443 483.6 L441.1 483.3 L439.1 482.9 L437.1 482.6 L435.1 482.3 L433.1 482 L431.1 481.7 L429.1 481.3 L427 481 L424.9 480.6 L422.7 480.3 L420.5 479.9 L418.4 479.5 L416.2 479.2 L414.1 478.9 L412.1 478.6 L410.1 478.3 L408.2 478.1 L406.4 477.9 L404.7 477.8 L403.1 477.8 L401.5 478 L400.1 478.2 L398.6 478.4 L397.3 478.6 L395.9 478.8 L394.6 478.9 L393.3 478.9 L391.9 478.7 L390.6 478.4 L389.3 477.9 L387.9 477.2 L386.6 476.5 L385.3 475.7 L384.1 474.8 L382.8 473.8 L381.6 472.6 L380.3 471.4 L379.1 470 L377.8 468.4 L376.6 466.7 L375.3 464.8 L374.1 462.6 L372.8 460.3 L371.5 457.6 L370.2 454.7 L368.8 451.7 L367.5 448.4 L366.2 445 L364.9 441.6 L363.6 438.1 L362.4 434.6 L361.2 431.2 L360 427.8 L358.8 424.6 L357.7 421.4 L356.7 418 L355.6 414.6 L354.5 411.2 L353.5 407.8 L352.5 404.4 L351.6 401.1 L350.7 397.8 L349.8 394.7 L349 391.8 L348.2 389 L347.4 386.5 L346.8 384.3 L346.1 382.2 L345.6 380.4 L345.1 378.7 L344.6 377.1 L344.2 375.6 L343.8 374.2 L343.4 372.9 L343 371.6 L342.6 370.2 L342.2 368.9 L341.7 367.5 L341.3 366.1 L340.8 364.7 L340.3 363.3 L339.9 361.9 L339.4 360.5 L339 359.2 L338.5 357.9 L338.1 356.7 L337.6 355.5 L337.1 354.4 L336.6 353.3 L336 352.3 L335.5 351.3 L334.9 350.4 L334.4 349.5 L333.9 348.6 L333.4 347.7 L332.8 346.9 L332.2 346.3 L331.6 345.7 L330.9 345.2 L330.1 344.9 L329.3 344.7 L328.4 344.7 L327.4 344.9 L326.3 345.4 L325 346 L323.8 346.9 L322.4 347.8 L321 348.8 L319.6 349.9 L318.3 351 L316.9 352 L315.6 352.9 L314.3 353.6 L313.2 354.2 L312.1 354.6 L311.1 355 L310.1 355.3 L309.2 355.5 L308.3 355.7 L307.5 355.8 L306.6 355.9 L305.7 355.9 L304.8 356 L303.8 356 L302.8 356.1 L301.8 356.1 L300.7 356.1 L299.5 356.1 L298.4 356.1 L297.3 356.1 L296.1 356 L294.9 355.9 L293.6 355.8 L292.3 355.7 L291 355.6 L289.6 355.5 L288.1 355.4 L286.5 355.3 L284.9 355.2 L283.2 355.1 L281.4 354.9 L279.5 354.7 L277.6 354.5 L275.6 354.4 L273.6 354.2 L271.6 354.1 L269.6 354 L267.6 354 L265.6 354.1 L263.7 354.2 L261.8 354.4 L259.9 354.8 L258 355.1 L256.1 355.6 L254.2 356.1 L252.3 356.6 L250.4 357.2 L248.5 357.8 L246.6 358.3 L244.7 358.9 L242.8 359.4 L240.9 359.9Z" fill="#8a8a8a" fill-opacity="0.24"/>
<path d="M240.9 379.7 L242 379 L243.1 378.3 L244.3 377.6 L245.4 376.9 L246.5 376.3 L247.7 375.6 L248.8 374.9 L249.9 374.2 L251 373.5 L252.1 372.8 L253.2 372.1 L254.2 371.3 L255.2 370.6 L256.2 369.8 L257.2 369.1 L258.1 368.3 L259.1 367.6 L260 366.8 L260.9 366 L261.8 365.2 L262.8 364.4 L263.7 363.5 L264.6 362.7 L265.6 361.8 L266.6 360.9 L267.6 359.9 L268.6 358.9 L269.6 357.8 L270.6 356.7 L271.6 355.7 L272.7 354.6 L273.7 353.6 L274.7 352.6 L275.7 351.6 L276.8 350.8 L277.8 350 L278.8 349.3 L279.8 348.7 L280.8 348 L281.7 347.5 L282.7 346.9 L283.6 346.4 L284.6 346 L285.7 345.6 L286.7 345.3 L287.9 345 L289.1 344.8 L290.4 344.7 L291.7 344.6 L293.2 344.7 L294.7 344.8 L296.4 345.1 L298 345.3 L299.7 345.6 L301.4 346 L303.1 346.4 L304.7 346.7 L306.4 347.1 L307.9 347.4 L309.4 347.7 L310.8 348 L312.1 348.3 L313.4 348.7 L314.7 349 L316 349.3 L317.2 349.7 L318.4 350 L319.7 350.3 L320.9 350.6 L322.1 351 L323.3 351.3 L324.6 351.5 L325.9 351.8 L327.2 352 L328.5 352.2 L329.8 352.4 L331.1 352.6 L332.4 352.8 L333.7 353 L335 353.2 L336.3 353.4 L337.5 353.6 L338.7 353.9 L339.8 354.2 L340.9 354.6 L341.9 355 L342.9 355.6 L343.9 356.1 L344.8 356.7 L345.8 357.3 L346.7 357.8 L347.6 358.3 L348.5 358.7 L349.4 359 L350.3 359.1 L351.2 359.1 L352.2 359 L353.1 358.8 L354.1 358.5 L355 358 L356 357.6 L356.9 357 L357.9 356.3 L358.8 355.6 L359.8 354.9 L360.7 354.1 L361.7 353.2 L362.6 352.3 L363.6 351.3 L364.6 350.2 L365.5 349 L366.5 347.7 L367.4 346.3 L368.4 344.9 L369.3 343.5 L370.3 342.1 L371.2 340.8 L372.2 339.4 L373.1 338.2 L374.1 337.1 L375 336 L376 334.9 L377 333.9 L377.9 332.8 L378.9 331.9 L379.9 330.9 L380.9 330 L381.8 329.1 L382.8 328.3 L383.7 327.6 L384.6 327 L385.5 326.4 L386.3 325.9 L387.2 325.5 L387.9 325.1 L388.7 324.8 L389.5 324.5 L390.2 324.4 L391 324.2 L391.8 324.2 L392.5 324.2 L393.3 324.4 L394.1 324.6 L395 324.9 L395.9 325.3 L396.8 325.8 L397.7 326.3 L398.7 326.9 L399.6 327.6 L400.6 328.4 L401.6 329.3 L402.5 330.2 L403.5 331.3 L404.5 332.5 L405.5 333.8 L406.4 335.2 L407.4 336.7 L408.3 338.4 L409.3 340.2 L410.3 342.1 L411.3 344.2 L412.2 346.3 L413.2 348.5 L414.2 350.7 L415.1 353 L416 355.3 L416.9 357.6 L417.8 359.9 L418.7 362.2 L419.5 364.6 L420.3 367.1 L421.1 369.6 L421.8 372.1 L422.6 374.7 L423.3 377.2 L424.1 379.9 L424.9 382.5 L425.7 385.1 L426.5 387.7 L427.3 390.4 L428.2 393 L429.1 395.7 L430.1 398.4 L431 401.1 L432 403.9 L432.9 406.6 L433.9 409.4 L434.9 412.1 L435.9 414.8 L436.8 417.5 L437.8 420.1 L438.8 422.7 L439.7 425.3 L440.7 427.9 L441.8 430.5 L442.8 433.2 L443.9 435.8 L444.9 438.4 L445.9 440.9 L446.9 443.3 L447.8 445.5 L448.7 447.6 L449.5 449.5 L450.2 451.2 L450.8 452.7 L451.3 453.9 L451.8 454.9 L452.2 455.8 L452.6 456.5 L452.9 457.2 L453.2 457.7 L453.5 458.3 L453.8 458.8 L454.1 459.4 L454.4 460 L454.7 460.7 L454.7 485.5 L453.7 483.8 L452.7 482.1 L451.7 480.4 L450.6 478.8 L449.6 477.1 L448.6 475.5 L447.6 473.8 L446.6 472.1 L445.5 470.3 L444.5 468.5 L443.5 466.6 L442.6 464.6 L441.6 462.4 L440.6 460.3 L439.6 458 L438.7 455.7 L437.7 453.3 L436.8 450.9 L435.9 448.4 L434.9 445.9 L434 443.5 L433 441 L432.1 438.5 L431.1 436 L430.2 433.5 L429.2 431 L428.2 428.4 L427.3 425.8 L426.3 423.2 L425.3 420.6 L424.3 417.9 L423.4 415.4 L422.4 412.8 L421.5 410.3 L420.6 407.9 L419.7 405.6 L418.9 403.3 L418 401.1 L417.2 398.9 L416.4 396.7 L415.6 394.6 L414.9 392.5 L414.1 390.4 L413.3 388.4 L412.5 386.5 L411.8 384.6 L411 382.7 L410.2 380.8 L409.4 379 L408.6 377.2 L407.8 375.5 L407 373.8 L406.2 372.1 L405.5 370.5 L404.7 368.9 L403.9 367.4 L403.1 365.9 L402.3 364.5 L401.5 363.1 L400.7 361.8 L399.9 360.5 L399.1 359.3 L398.3 358.1 L397.5 356.9 L396.7 355.7 L395.9 354.7 L395.2 353.7 L394.4 352.8 L393.6 352 L392.8 351.3 L392 350.8 L391.2 350.4 L390.4 350.1 L389.6 350 L388.9 350 L388.1 350.1 L387.3 350.3 L386.5 350.6 L385.8 351 L385 351.5 L384.2 352.1 L383.4 352.7 L382.5 353.4 L381.7 354.2 L380.8 355.1 L379.9 356.2 L379 357.4 L378 358.8 L377.1 360.2 L376.1 361.7 L375.1 363.2 L374.1 364.6 L373.2 366 L372.2 367.3 L371.2 368.4 L370.3 369.4 L369.3 370.2 L368.4 370.9 L367.4 371.5 L366.5 372.1 L365.5 372.5 L364.6 372.9 L363.6 373.3 L362.6 373.7 L361.7 374 L360.7 374.4 L359.8 374.7 L358.8 375.1 L357.9 375.6 L357 376.1 L356.1 376.6 L355.2 377.1 L354.3 377.6 L353.4 378.1 L352.5 378.5 L351.5 378.9 L350.5 379.2 L349.6 379.5 L348.5 379.6 L347.4 379.7 L346.3 379.6 L345.2 379.5 L344.1 379.2 L342.9 378.9 L341.7 378.5 L340.5 378.1 L339.3 377.6 L338 377.1 L336.6 376.6 L335.2 376.1 L333.8 375.6 L332.2 375.1 L330.5 374.7 L328.8 374.2 L326.9 373.7 L324.9 373.2 L322.8 372.7 L320.8 372.2 L318.7 371.7 L316.7 371.2 L314.7 370.7 L312.8 370.3 L311 369.8 L309.4 369.4 L307.8 369 L306.4 368.6 L305 368.2 L303.7 367.8 L302.4 367.4 L301.2 367 L300 366.6 L298.8 366.3 L297.6 366.1 L296.5 365.9 L295.3 365.7 L294.2 365.6 L293 365.6 L291.8 365.6 L290.6 365.7 L289.4 365.9 L288.3 366.1 L287.1 366.3 L286 366.5 L284.9 366.8 L283.9 367.2 L282.8 367.5 L281.8 367.9 L280.8 368.3 L279.9 368.7 L279 369.1 L278.2 369.6 L277.4 370.2 L276.6 370.7 L275.8 371.3 L275.1 371.9 L274.4 372.5 L273.6 373.1 L272.9 373.8 L272.1 374.5 L271.3 375.1 L270.6 375.8 L269.9 376.6 L269.2 377.3 L268.6 378.1 L267.9 378.9 L267.3 379.7 L266.6 380.5 L265.8 381.4 L265 382.2 L264.1 383 L263 383.8 L261.8 384.6 L260.5 385.4 L259 386.2 L257.4 387 L255.7 387.8 L253.9 388.6 L252.1 389.4 L250.2 390.2 L248.3 391 L246.4 391.8 L244.5 392.6 L242.7 393.4 L240.9 394.2Z" fill="#7a1c1c" fill-opacity="0.19"/>
<path d="M351.5 369.4 L353.5 369.1 L355.5 368.5 L357.5 367.5 L360.5 365.5 L362.5 363.8 L364.5 361.8 L366.5 359.2 L368.5 356.3 L370.5 353.3 L372.5 350.5 L374.5 348 L376.5 345.5 L379.5 342 L381.5 339.8 L383.5 337.8 L385.5 336.3 L387.5 335.2 L389.5 334.5 L391.5 334.3 L394.5 335 L396.5 336 L398.5 337.4 L400.5 339.3 L402.5 341.8 L404.5 344.7 L406.5 348.2 L408.5 352.3 L410.5 356.8 L413.5 364.3 L415.5 369.7 L417.5 375.6 L419.5 381.8 L421.5 388.1 L423.5 394.1 L425.5 399.9 L428.5 408.4 L430.5 414.1 L432.5 419.7 L434.5 425.3 L436.5 430.7 L438.5 436.2 L440.5 441.5 L442.5 446.8 L442.5 473.2 L440.5 473.3 L438.5 473.3 L436.5 473.3 L434.5 473.2 L432.5 473 L430.5 472.9 L428.5 472.7 L425.5 472.4 L423.5 472.2 L421.5 472 L419.5 471.8 L417.5 471.6 L415.5 471.4 L413.5 471.2 L410.5 470.9 L408.5 470.6 L406.5 470.3 L404.5 470 L402.5 469.8 L400.5 469.7 L398.5 469.5 L396.5 469.2 L394.5 468.8 L391.5 467.7 L389.5 466.6 L387.5 465.1 L385.5 463.4 L383.5 461.3 L381.5 459 L379.5 456.3 L376.5 451.7 L374.5 448.2 L372.5 444.3 L370.5 440 L368.5 435.3 L366.5 430.3 L364.5 425.1 L362.5 419.7 L360.5 414.1 L357.5 405.4 L355.5 399.1 L353.5 392.3 L351.5 385.3Z" fill="#4559a5" fill-opacity="0.07"/>
<path d="M351.5 369.4V385.3M353.5 369.1V392.3M355.5 368.5V399.1M357.5 367.5V405.4M360.5 365.5V414.1M362.5 363.8V419.7M364.5 361.8V425.1M366.5 359.2V430.3M368.5 356.3V435.3M370.5 353.3V440M372.5 350.5V444.3M374.5 348V448.2M376.5 345.5V451.7M379.5 342V456.3M381.5 339.8V459M383.5 337.8V461.3M385.5 336.3V463.4M387.5 335.2V465.1M389.5 334.5V466.6M391.5 334.3V467.7M394.5 335V468.8M396.5 336V469.2M398.5 337.4V469.5M400.5 339.3V469.7M402.5 341.8V469.8M404.5 344.7V470M406.5 348.2V470.3M408.5 352.3V470.6M410.5 356.8V470.9M413.5 364.3V471.2M415.5 369.7V471.4M417.5 375.6V471.6M419.5 381.8V471.8M421.5 388.1V472M423.5 394.1V472.2M425.5 399.9V472.4M428.5 408.4V472.7M430.5 414.1V472.9M432.5 419.7V473M434.5 425.3V473.2M436.5 430.7V473.3M438.5 436.2V473.3M440.5 441.5V473.3M442.5 446.8V473.2" stroke="#4f65ac" stroke-width="1" fill="none"/>
<path d="M240.9 349.6 L242.2 349.2 L243.4 348.8 L244.7 348.4 L246 347.9 L247.2 347.5 L248.5 347.1 L249.8 346.7 L251 346.3 L252.3 345.8 L253.6 345.4 L254.8 345.1 L256.1 344.7 L257.4 344.3 L258.6 343.9 L259.9 343.5 L261.2 343.1 L262.4 342.7 L263.7 342.4 L265 342 L266.3 341.7 L267.5 341.4 L268.8 341.2 L270.1 341 L271.3 340.9 L272.6 340.8 L273.9 340.9 L275.1 341 L276.4 341.1 L277.7 341.3 L278.9 341.5 L280.2 341.7 L281.5 341.9 L282.7 342.2 L284 342.4 L285.3 342.6 L286.5 342.8 L287.8 343 L289.1 343.2 L290.4 343.4 L291.8 343.7 L293.1 344 L294.4 344.2 L295.7 344.4 L297 344.6 L298.2 344.7 L299.4 344.8 L300.6 344.8 L301.8 344.7 L302.9 344.5 L303.9 344.2 L304.9 343.8 L305.9 343.4 L306.8 342.9 L307.7 342.4 L308.6 341.9 L309.5 341.3 L310.4 340.7 L311.3 340.1 L312.2 339.5 L313.2 339 L314.1 338.4 L315.1 337.7 L316.1 337 L317.1 336.2 L318 335.5 L319 334.7 L320 334 L320.9 333.3 L321.9 332.6 L322.8 332.1 L323.7 331.7 L324.6 331.4 L325.5 331.2 L326.3 331 L327.2 330.9 L328 330.8 L328.9 330.8 L329.7 330.9 L330.5 331.1 L331.3 331.3 L332 331.6 L332.8 332.1 L333.5 332.6 L334.1 333.3 L334.7 334.1 L335.3 335 L335.8 336 L336.2 337.1 L336.7 338.3 L337.1 339.6 L337.5 340.9 L337.9 342.4 L338.3 343.8 L338.8 345.4 L339.3 346.9 L339.8 348.5 L340.4 350.1 L340.9 351.7 L341.5 353.3 L342.1 355 L342.7 356.7 L343.3 358.5 L343.9 360.3 L344.5 362.3 L345.2 364.4 L345.9 366.6 L346.7 368.9 L347.4 371.3 L348.2 374 L349.1 376.8 L349.9 379.8 L350.8 382.9 L351.7 386.1 L352.7 389.4 L353.6 392.8 L354.6 396.1 L355.6 399.5 L356.7 402.9 L357.7 406.2 L358.8 409.4 L360 412.6 L361.2 415.9 L362.4 419.3 L363.6 422.8 L364.9 426.2 L366.2 429.6 L367.5 432.9 L368.8 436.2 L370.2 439.3 L371.5 442.2 L372.8 444.9 L374.1 447.4 L375.3 449.7 L376.6 451.9 L377.8 453.9 L379.1 455.7 L380.3 457.5 L381.6 459.1 L382.8 460.6 L384.1 461.9 L385.3 463.2 L386.6 464.4 L387.9 465.5 L389.3 466.5 L390.6 467.3 L392 468 L393.4 468.5 L394.9 468.9 L396.3 469.2 L397.7 469.4 L399.2 469.6 L400.6 469.7 L402.1 469.8 L403.5 469.9 L405 470.1 L406.4 470.3 L407.8 470.5 L409.3 470.7 L410.7 470.9 L412.2 471.1 L413.6 471.2 L415.1 471.4 L416.5 471.5 L418 471.7 L419.4 471.8 L420.8 471.9 L422.2 472 L423.5 472.2 L424.9 472.3 L426.2 472.4 L427.5 472.6 L428.7 472.7 L430 472.8 L431.3 472.9 L432.5 473 L433.7 473.1 L435 473.2 L436.2 473.3 L437.5 473.3 L438.8 473.3 L440 473.3 L441.3 473.2 L442.6 473.2 L443.8 473.1 L445.1 473 L446.4 472.9 L447.6 472.8 L448.9 472.6 L450.2 472.5 L451.4 472.4 L452.7 472.3 L454 472.2" stroke="#868686" stroke-width="1.6" fill="none"/>
<path d="M240.9 384.6 L241.8 384.2 L242.8 383.7 L243.8 383.3 L244.7 382.8 L245.7 382.4 L246.7 381.9 L247.6 381.4 L248.6 381 L249.6 380.5 L250.5 380 L251.4 379.5 L252.3 378.9 L253.2 378.4 L254 377.8 L254.9 377.2 L255.7 376.6 L256.5 376 L257.3 375.3 L258.1 374.7 L258.9 374 L259.7 373.4 L260.5 372.7 L261.4 372 L262.2 371.3 L263 370.6 L263.9 369.9 L264.8 369.2 L265.6 368.4 L266.5 367.7 L267.4 366.9 L268.3 366.2 L269.1 365.4 L270 364.7 L270.8 364 L271.7 363.3 L272.5 362.6 L273.2 361.9 L274 361.2 L274.7 360.6 L275.3 359.9 L276 359.2 L276.7 358.6 L277.4 358 L278 357.4 L278.8 356.8 L279.5 356.3 L280.3 355.8 L281.2 355.3 L282.1 354.9 L283.1 354.5 L284.1 354.1 L285.1 353.7 L286.2 353.3 L287.3 353 L288.4 352.7 L289.5 352.5 L290.7 352.3 L291.8 352.3 L293 352.2 L294.2 352.3 L295.3 352.5 L296.6 352.8 L297.8 353.2 L299.1 353.7 L300.3 354.2 L301.6 354.8 L302.9 355.4 L304.2 356 L305.5 356.6 L306.8 357.1 L308.1 357.6 L309.4 358 L310.6 358.4 L311.9 358.7 L313.2 358.9 L314.4 359.2 L315.7 359.4 L317 359.7 L318.3 359.9 L319.5 360.1 L320.8 360.3 L322.1 360.6 L323.3 360.8 L324.6 361.1 L325.9 361.3 L327.2 361.6 L328.5 361.8 L329.8 362.1 L331.1 362.4 L332.4 362.6 L333.7 362.9 L335 363.2 L336.3 363.5 L337.5 363.8 L338.7 364.1 L339.8 364.5 L340.9 364.9 L341.9 365.3 L342.9 365.9 L343.9 366.4 L344.8 367 L345.8 367.5 L346.7 368 L347.6 368.5 L348.5 368.9 L349.4 369.2 L350.3 369.4 L351.2 369.4 L352.2 369.3 L353.1 369.2 L354.1 369 L355 368.7 L356 368.3 L356.9 367.8 L357.9 367.3 L358.8 366.7 L359.8 366.1 L360.7 365.3 L361.7 364.6 L362.6 363.7 L363.6 362.8 L364.6 361.7 L365.5 360.5 L366.5 359.2 L367.4 357.9 L368.4 356.5 L369.3 355.1 L370.3 353.7 L371.2 352.3 L372.2 351 L373.1 349.7 L374.1 348.5 L375 347.3 L376 346.2 L377 345 L377.9 343.8 L378.9 342.6 L379.9 341.5 L380.9 340.5 L381.8 339.4 L382.8 338.5 L383.7 337.7 L384.6 336.9 L385.5 336.3 L386.3 335.8 L387.2 335.4 L388 335 L388.8 334.7 L389.6 334.5 L390.4 334.4 L391.1 334.3 L391.9 334.4 L392.7 334.5 L393.4 334.6 L394.2 334.9 L395 335.2 L395.8 335.6 L396.6 336 L397.4 336.5 L398.2 337.1 L399 337.8 L399.7 338.6 L400.5 339.4 L401.3 340.3 L402.1 341.3 L402.9 342.3 L403.7 343.5 L404.5 344.7 L405.3 346 L406.1 347.4 L406.9 348.9 L407.7 350.5 L408.5 352.2 L409.3 354 L410.1 355.8 L410.8 357.7 L411.6 359.6 L412.4 361.6 L413.2 363.6 L414 365.6 L414.8 367.7 L415.6 369.9 L416.4 372.1 L417.1 374.4 L417.9 376.8 L418.7 379.2 L419.4 381.6 L420.2 384.1 L421 386.6 L421.8 389.1 L422.7 391.6 L423.5 394.2 L424.4 396.7 L425.3 399.3 L426.3 402 L427.2 404.7 L428.2 407.5 L429.1 410.2 L430.1 413 L431.1 415.7 L432 418.5 L433 421.2 L434 423.9 L434.9 426.5 L435.9 429.1 L436.9 431.8 L437.9 434.5 L438.9 437.1 L439.9 439.8 L440.8 442.4 L441.8 445 L442.8 447.6 L443.7 450 L444.6 452.4 L445.5 454.7 L446.4 456.9 L447.2 459 L447.9 461 L448.7 462.8 L449.4 464.6 L450.1 466.3 L450.7 468 L451.4 469.6 L452.1 471.2 L452.7 472.9 L453.4 474.5 L454 476.2 L454.7 477.9" stroke="#7a1c1c" stroke-width="1.6" fill="none"/>
<circle cx="240.9" cy="344.7" r="2.5" fill="#868686"/>
<circle cx="240.9" cy="354.2" r="2.5" fill="#868686"/>
<circle cx="259.9" cy="340.1" r="2.5" fill="#868686"/>
<circle cx="259.9" cy="347.4" r="2.5" fill="#868686"/>
<circle cx="281.6" cy="333.7" r="2.5" fill="#868686"/>
<circle cx="281.6" cy="347.4" r="2.5" fill="#868686"/>
<circle cx="308.6" cy="339.7" r="2.5" fill="#868686"/>
<circle cx="308.6" cy="343.5" r="2.5" fill="#868686"/>
<circle cx="334.5" cy="333.7" r="2.5" fill="#868686"/>
<circle cx="334.5" cy="340.1" r="2.5" fill="#868686"/>
<circle cx="414.8" cy="469.5" r="2.5" fill="#868686"/>
<circle cx="414.8" cy="476.3" r="2.5" fill="#868686"/>
<circle cx="435.7" cy="469.1" r="2.5" fill="#868686"/>
<circle cx="435.7" cy="476.7" r="2.5" fill="#868686"/>
<circle cx="454.7" cy="468.4" r="2.5" fill="#868686"/>
<circle cx="454.7" cy="472.2" r="2.5" fill="#868686"/>
<circle cx="281.6" cy="356.5" r="2.5" fill="#7a1c1c"/>
<circle cx="308.6" cy="356.1" r="2.5" fill="#7a1c1c"/>
<circle cx="308.6" cy="361.1" r="2.5" fill="#7a1c1c"/>
<circle cx="334.5" cy="359.9" r="2.5" fill="#7a1c1c"/>
<circle cx="334.5" cy="366" r="2.5" fill="#7a1c1c"/>
<circle cx="361.1" cy="364.9" r="2.5" fill="#7a1c1c"/>
<circle cx="388.1" cy="334" r="2.5" fill="#7a1c1c"/>
<circle cx="414.4" cy="364.5" r="2.5" fill="#7a1c1c"/>
<circle cx="414.4" cy="368.7" r="2.5" fill="#7a1c1c"/>
<circle cx="435.7" cy="424.6" r="2.5" fill="#7a1c1c"/>
<circle cx="435.7" cy="431.1" r="2.5" fill="#7a1c1c"/>
<circle cx="454.7" cy="477.9" r="2.5" fill="#7a1c1c"/>

</g></g>
<g>
<clipPath id="cc1"><path d="M117.6 374.7 L405.3 372.3 L405.3 627.2 L117.6 630.4Z"/></clipPath>
<path d="M117.6 374.7 L405.3 372.3 L405.3 627.2 L117.6 630.4Z" fill="#fff" stroke="#2a2a2a" stroke-width="1.8" stroke-linejoin="miter"/>
<g clip-path="url(#cc1)">
<line x1="167.6" y1="387.9" x2="167.6" y2="580" stroke="#111" stroke-width="1.2"/>
<line x1="167.6" y1="580" x2="403.2" y2="580" stroke="#000" stroke-width="1.5"/>
<path d="M177.8 425.6 L179.2 425.8 L180.6 426.1 L181.9 426.5 L183.3 426.8 L184.7 427.2 L186 427.6 L187.4 427.9 L188.8 428.1 L190.1 428.2 L191.5 428.2 L192.9 428 L194.2 427.6 L195.6 427 L197 426.1 L198.3 425.1 L199.7 423.9 L201.1 422.6 L202.4 421.2 L203.8 419.8 L205.2 418.3 L206.5 416.9 L207.9 415.6 L209.3 414.4 L210.6 413.3 L212 412.2 L213.4 411.2 L214.8 410.1 L216.2 409.1 L217.7 408.1 L219.1 407.1 L220.5 406.2 L221.9 405.4 L223.2 404.6 L224.5 404 L225.8 403.4 L227 403 L228.2 402.7 L229.3 402.5 L230.3 402.3 L231.3 402.3 L232.2 402.3 L233.2 402.4 L234.1 402.6 L235.1 402.9 L236 403.3 L237.1 403.8 L238.2 404.4 L239.3 405.1 L240.5 405.9 L241.8 406.9 L243.1 408 L244.5 409.2 L245.8 410.5 L247.2 411.9 L248.7 413.3 L250.1 414.9 L251.5 416.5 L252.9 418.1 L254.3 419.8 L255.7 421.5 L257.1 423.2 L258.4 425 L259.8 426.9 L261.2 428.9 L262.5 430.9 L263.9 433 L265.3 435.1 L266.6 437.2 L268 439.4 L269.4 441.6 L270.7 443.8 L272.1 446 L273.5 448.3 L274.8 450.5 L276.2 452.8 L277.6 455.1 L278.9 457.5 L280.3 459.9 L281.6 462.3 L283 464.7 L284.4 467.2 L285.7 469.7 L287.1 472.2 L288.5 474.7 L289.8 477.3 L291.2 480 L292.6 482.8 L293.9 485.7 L295.3 488.5 L296.7 491.4 L298 494.2 L299.4 497 L300.8 499.8 L302.1 502.5 L303.5 505 L304.9 507.5 L306.2 509.9 L307.6 512.3 L309 514.7 L310.3 517 L311.7 519.3 L313.1 521.5 L314.4 523.6 L315.8 525.6 L317.2 527.4 L318.5 529.2 L319.9 530.7 L321.3 532.1 L322.6 533.3 L324 534.3 L325.4 535.1 L326.7 535.8 L328.1 536.4 L329.5 536.8 L330.8 537.2 L332.2 537.5 L333.5 537.7 L334.9 537.9 L336.3 538.1 L337.6 538.2 L339 538.4 L340.4 538.4 L341.7 538.3 L343.1 538.2 L344.5 538.1 L345.8 537.9 L347.2 537.6 L348.6 537.3 L349.9 537 L351.3 536.7 L352.7 536.5 L354 536.2 L355.4 535.9 L356.7 535.7 L358 535.4 L359.3 535.1 L360.6 534.8 L361.8 534.5 L363.2 534.2 L364.5 533.8 L365.9 533.4 L367.3 533 L368.8 532.6 L370.4 532.1 L372.1 531.5 L373.8 531 L375.6 530.3 L377.5 529.7 L379.4 529 L381.3 528.2 L383.3 527.5 L385.2 526.8 L387.2 526 L389.1 525.3 L391.1 524.6 L393 523.9 L393 552.6 L391.1 552.9 L389.1 553.2 L387.2 553.6 L385.2 553.9 L383.3 554.2 L381.3 554.6 L379.4 554.9 L377.5 555.2 L375.6 555.6 L373.8 555.9 L372.1 556.3 L370.4 556.7 L368.8 557.1 L367.3 557.5 L365.9 557.9 L364.5 558.4 L363.2 558.8 L361.8 559.3 L360.6 559.7 L359.3 560.1 L358 560.5 L356.7 560.9 L355.4 561.3 L354 561.6 L352.7 561.9 L351.3 562.2 L349.9 562.4 L348.5 562.7 L347.1 562.9 L345.7 563.1 L344.3 563.3 L343 563.4 L341.6 563.5 L340.3 563.6 L338.9 563.6 L337.6 563.6 L336.4 563.6 L335.1 563.6 L333.9 563.6 L332.7 563.5 L331.5 563.5 L330.3 563.4 L329.2 563.2 L328 562.9 L326.8 562.6 L325.7 562.1 L324.5 561.5 L323.3 560.8 L322.1 559.9 L320.9 559 L319.8 558 L318.6 556.9 L317.4 555.7 L316.3 554.4 L315.1 553.1 L313.9 551.6 L312.7 549.9 L311.5 548.2 L310.2 546.4 L309 544.4 L307.7 542.2 L306.4 539.9 L305 537.3 L303.7 534.7 L302.3 531.9 L300.9 529 L299.5 526.1 L298.1 523.1 L296.7 520.2 L295.3 517.3 L293.9 514.4 L292.6 511.6 L291.2 508.8 L289.8 506 L288.5 503.2 L287.1 500.4 L285.7 497.5 L284.4 494.7 L283 491.9 L281.6 489.1 L280.3 486.4 L278.9 483.8 L277.6 481.3 L276.2 478.8 L274.8 476.5 L273.5 474.1 L272.1 471.9 L270.7 469.6 L269.4 467.5 L268 465.4 L266.6 463.3 L265.3 461.4 L263.9 459.5 L262.5 457.6 L261.2 455.9 L259.8 454.2 L258.4 452.7 L257.1 451.2 L255.7 449.8 L254.3 448.5 L253 447.2 L251.6 446 L250.2 444.9 L248.9 443.8 L247.5 442.8 L246.1 441.8 L244.8 440.8 L243.4 439.9 L242 439 L240.6 438 L239.2 437.1 L237.8 436.3 L236.4 435.4 L235 434.6 L233.6 433.9 L232.2 433.3 L230.8 432.7 L229.5 432.3 L228.2 431.9 L227 431.7 L225.9 431.6 L224.7 431.5 L223.7 431.5 L222.6 431.6 L221.6 431.7 L220.6 432 L219.6 432.3 L218.7 432.8 L217.7 433.3 L216.7 434 L215.7 434.8 L214.7 435.8 L213.7 437 L212.7 438.4 L211.7 440.1 L210.6 441.9 L209.6 443.8 L208.6 445.8 L207.6 447.8 L206.5 449.8 L205.5 451.6 L204.5 453.4 L203.5 455 L202.4 456.3 L201.4 457.4 L200.4 458.5 L199.4 459.5 L198.3 460.4 L197.3 461.2 L196.3 461.9 L195.3 462.6 L194.2 463.1 L193.2 463.6 L192.2 464 L191.2 464.3 L190.1 464.5 L189.1 464.6 L188.1 464.5 L187.1 464.3 L186 464 L185 463.6 L184 463.2 L183 462.7 L181.9 462.2 L180.9 461.7 L179.9 461.2 L178.9 460.8 L177.8 460.4Z" fill="#8a8a8a" fill-opacity="0.24"/>
<path d="M177.8 417.4 L179.5 416.7 L181.2 416.1 L182.9 415.4 L184.5 414.7 L186.2 414.1 L187.8 413.4 L189.5 412.7 L191.2 412.1 L192.9 411.5 L194.7 411 L196.5 410.4 L198.3 410 L200.3 409.6 L202.2 409.2 L204.3 408.8 L206.4 408.5 L208.5 408.2 L210.6 408 L212.8 407.7 L214.9 407.5 L217 407.4 L219 407.3 L221 407.2 L222.9 407.1 L224.8 407.1 L226.6 407.2 L228.3 407.3 L230.1 407.4 L231.7 407.6 L233.4 407.8 L235.1 408 L236.7 408.2 L238.4 408.5 L240 408.7 L241.7 408.9 L243.4 409.2 L245.1 409.4 L246.8 409.7 L248.5 410.1 L250.2 410.5 L251.9 410.9 L253.7 411.3 L255.4 411.6 L257.1 411.9 L258.8 412.2 L260.5 412.4 L262.2 412.5 L263.9 412.4 L265.6 412.3 L267.3 412.1 L269 411.8 L270.7 411.4 L272.4 411 L274.1 410.5 L275.8 410 L277.6 409.4 L279.3 408.9 L281 408.3 L282.7 407.7 L284.4 407.1 L286.1 406.5 L287.8 405.8 L289.6 405.1 L291.4 404.3 L293.1 403.6 L294.9 402.8 L296.6 402 L298.3 401.2 L300 400.6 L301.7 399.9 L303.3 399.4 L304.9 398.9 L306.4 398.6 L307.8 398.2 L309.3 397.9 L310.6 397.7 L312 397.5 L313.3 397.3 L314.6 397.2 L315.9 397.2 L317.3 397.2 L318.6 397.3 L319.9 397.5 L321.3 397.7 L322.6 398 L324 398.2 L325.4 398.5 L326.7 398.9 L328.1 399.3 L329.5 399.8 L330.8 400.3 L332.2 401 L333.5 401.8 L334.9 402.7 L336.3 403.8 L337.6 405.1 L339 406.5 L340.4 408 L341.7 409.7 L343.1 411.5 L344.5 413.5 L345.8 415.5 L347.2 417.7 L348.6 419.9 L349.9 422.2 L351.3 424.6 L352.7 427.1 L354 429.7 L355.4 432.3 L356.8 435 L358.1 437.8 L359.5 440.7 L360.9 443.7 L362.2 446.8 L363.6 450 L365 453.2 L366.3 456.4 L367.7 459.8 L369.1 463.1 L370.4 466.5 L371.8 470.1 L373.3 473.9 L374.8 477.9 L376.3 482 L377.8 486.2 L379.3 490.3 L380.7 494.4 L382.1 498.4 L383.4 502.2 L384.7 505.7 L385.8 508.8 L386.8 511.6 L387.7 514 L388.4 516 L389.1 517.7 L389.6 519.2 L390.1 520.5 L390.5 521.6 L390.9 522.6 L391.3 523.6 L391.7 524.6 L392.1 525.6 L392.5 526.7 L393 528 L393 571 L392.1 569 L391.3 567 L390.4 565 L389.6 563 L388.8 561 L388 559 L387.1 557 L386.3 554.9 L385.4 552.9 L384.5 550.8 L383.6 548.6 L382.7 546.4 L381.8 544.2 L380.8 541.9 L379.8 539.5 L378.8 537.1 L377.7 534.7 L376.7 532.2 L375.7 529.8 L374.6 527.3 L373.5 524.9 L372.5 522.5 L371.5 520.1 L370.4 517.7 L369.4 515.4 L368.4 513.2 L367.4 510.9 L366.3 508.6 L365.3 506.4 L364.3 504.1 L363.3 501.9 L362.2 499.7 L361.2 497.5 L360.2 495.4 L359.2 493.2 L358.1 491.1 L357.1 489 L356.1 486.9 L355.1 484.7 L354 482.6 L353 480.5 L352 478.4 L351 476.4 L349.9 474.4 L348.9 472.5 L347.9 470.7 L346.9 468.9 L345.8 467.4 L344.8 465.9 L343.8 464.5 L342.8 463.2 L341.7 461.9 L340.7 460.8 L339.7 459.7 L338.7 458.7 L337.6 457.7 L336.6 456.8 L335.6 455.9 L334.6 455.1 L333.5 454.2 L332.5 453.5 L331.5 452.8 L330.6 452.1 L329.6 451.5 L328.6 450.9 L327.7 450.4 L326.7 450 L325.7 449.5 L324.6 449.1 L323.5 448.8 L322.4 448.4 L321.3 448.1 L320 447.8 L318.8 447.5 L317.5 447.3 L316.2 447.1 L314.9 446.9 L313.6 446.8 L312.2 446.7 L310.8 446.6 L309.3 446.6 L307.9 446.6 L306.4 446.7 L304.9 446.9 L303.3 447.1 L301.7 447.4 L300 447.7 L298.3 448.1 L296.6 448.6 L294.9 449.1 L293.1 449.6 L291.4 450.1 L289.6 450.6 L287.8 451.2 L286.1 451.7 L284.4 452.2 L282.7 452.7 L281 453.2 L279.3 453.8 L277.6 454.4 L275.8 455 L274.1 455.6 L272.4 456.2 L270.7 456.8 L269 457.3 L267.3 457.7 L265.6 458.1 L263.9 458.3 L262.2 458.5 L260.5 458.6 L258.8 458.7 L257.1 458.6 L255.4 458.6 L253.7 458.5 L251.9 458.3 L250.2 458.2 L248.5 458 L246.8 457.8 L245.1 457.7 L243.4 457.5 L241.7 457.3 L240 457.1 L238.4 456.8 L236.7 456.5 L235.1 456.2 L233.4 455.9 L231.7 455.6 L230.1 455.4 L228.3 455.2 L226.6 455 L224.8 455 L222.9 455.1 L221 455.2 L219 455.5 L217 455.8 L214.9 456.2 L212.8 456.6 L210.6 457.1 L208.5 457.6 L206.4 458.1 L204.3 458.7 L202.2 459.2 L200.3 459.8 L198.3 460.4 L196.5 461 L194.7 461.6 L192.9 462.2 L191.2 462.9 L189.5 463.6 L187.8 464.3 L186.2 465 L184.5 465.7 L182.9 466.5 L181.2 467.2 L179.5 467.9 L177.8 468.6Z" fill="#7a1c1c" fill-opacity="0.19"/>
<path d="M277.5 433.6 L279.5 433 L281.5 432.5 L283.5 431.9 L286.5 431.1 L288.5 430.4 L290.5 429.7 L292.5 429 L294.5 428.3 L296.5 427.5 L298.5 426.8 L300.5 426.1 L302.5 425.4 L305.5 424.6 L307.5 424.1 L309.5 423.6 L311.5 423.2 L313.5 422.9 L315.5 422.6 L317.5 422.4 L320.5 422.3 L322.5 422.3 L324.5 422.5 L326.5 422.9 L328.5 423.4 L330.5 424.1 L332.5 425 L334.5 426.1 L336.5 427.3 L339.5 429.3 L341.5 431 L343.5 433 L345.5 435.4 L347.5 438.2 L349.5 441.4 L351.5 445 L354.5 450.9 L356.5 454.9 L358.5 459.1 L360.5 463.4 L362.5 467.7 L364.5 472.3 L366.5 477 L368.5 482 L370.5 487.2 L373.5 495.7 L373.5 542.6 L370.5 543.3 L368.5 543.8 L366.5 544.3 L364.5 544.9 L362.5 545.6 L360.5 546.2 L358.5 546.9 L356.5 547.6 L354.5 548.2 L351.5 549 L349.5 549.4 L347.5 549.7 L345.5 550.1 L343.5 550.4 L341.5 550.6 L339.5 550.8 L336.5 550.8 L334.5 550.7 L332.5 550.4 L330.5 550 L328.5 549.5 L326.5 548.9 L324.5 548.1 L322.5 546.9 L320.5 545.5 L317.5 542.7 L315.5 540.3 L313.5 537.7 L311.5 534.8 L309.5 531.7 L307.5 528.4 L305.5 525 L302.5 519.6 L300.5 515.6 L298.5 511.6 L296.5 507.4 L294.5 503.2 L292.5 499.1 L290.5 495 L288.5 491.2 L286.5 487.4 L283.5 481.9 L281.5 478.3 L279.5 474.8 L277.5 471.3Z" fill="#4559a5" fill-opacity="0.07"/>
<path d="M277.5 433.6V471.3M279.5 433V474.8M281.5 432.5V478.3M283.5 431.9V481.9M286.5 431.1V487.4M288.5 430.4V491.2M290.5 429.7V495M292.5 429V499.1M294.5 428.3V503.2M296.5 427.5V507.4M298.5 426.8V511.6M300.5 426.1V515.6M302.5 425.4V519.6M305.5 424.6V525M307.5 424.1V528.4M309.5 423.6V531.7M311.5 423.2V534.8M313.5 422.9V537.7M315.5 422.6V540.3M317.5 422.4V542.7M320.5 422.3V545.5M322.5 422.3V546.9M324.5 422.5V548.1M326.5 422.9V548.9M328.5 423.4V549.5M330.5 424.1V550M332.5 425V550.4M334.5 426.1V550.7M336.5 427.3V550.8M339.5 429.3V550.8M341.5 431V550.6M343.5 433V550.4M345.5 435.4V550.1M347.5 438.2V549.7M349.5 441.4V549.4M351.5 445V549M354.5 450.9V548.2M356.5 454.9V547.6M358.5 459.1V546.9M360.5 463.4V546.2M362.5 467.7V545.6M364.5 472.3V544.9M366.5 477V544.3M368.5 482V543.8M370.5 487.2V543.3M373.5 495.7V542.6" stroke="#4f65ac" stroke-width="1" fill="none"/>
<path d="M177.8 441.9 L178.7 442.7 L179.6 443.6 L180.5 444.5 L181.3 445.4 L182.2 446.3 L183.1 447.2 L184 448 L184.8 448.8 L185.7 449.5 L186.5 450.1 L187.3 450.6 L188.1 451 L188.8 451.2 L189.6 451.3 L190.2 451.4 L190.9 451.4 L191.5 451.3 L192.2 451.1 L192.8 450.8 L193.5 450.5 L194.1 450 L194.8 449.5 L195.5 448.8 L196.3 448.1 L197.1 447.2 L197.9 446.1 L198.7 444.9 L199.5 443.6 L200.3 442.1 L201.2 440.6 L202 439.1 L202.9 437.5 L203.8 436 L204.7 434.5 L205.6 433 L206.5 431.7 L207.5 430.4 L208.5 429.1 L209.5 427.7 L210.5 426.4 L211.5 425.1 L212.5 423.8 L213.6 422.5 L214.7 421.3 L215.7 420.2 L216.8 419.1 L217.8 418.2 L218.8 417.4 L219.8 416.6 L220.9 415.9 L221.9 415.3 L222.9 414.8 L223.9 414.3 L225 413.9 L226 413.6 L227 413.3 L228 413.2 L229.1 413.1 L230.1 413.1 L231.1 413.3 L232.1 413.5 L233.2 413.8 L234.2 414.2 L235.2 414.7 L236.2 415.3 L237.3 416 L238.3 416.7 L239.3 417.5 L240.3 418.4 L241.4 419.4 L242.4 420.4 L243.4 421.5 L244.4 422.6 L245.4 423.9 L246.4 425.3 L247.4 426.7 L248.3 428.2 L249.3 429.8 L250.3 431.4 L251.3 433.1 L252.3 434.8 L253.4 436.5 L254.5 438.2 L255.7 439.9 L256.9 441.6 L258.2 443.3 L259.5 445.1 L260.9 446.9 L262.2 448.7 L263.6 450.5 L265.1 452.4 L266.5 454.3 L267.9 456.3 L269.3 458.3 L270.7 460.3 L272.1 462.4 L273.5 464.6 L274.8 466.8 L276.2 469.1 L277.6 471.4 L278.9 473.7 L280.3 476.1 L281.6 478.6 L283 481 L284.4 483.5 L285.7 486 L287.1 488.6 L288.5 491.1 L289.9 493.7 L291.2 496.5 L292.6 499.3 L294 502.2 L295.4 505.1 L296.8 508 L298.2 510.9 L299.6 513.7 L300.9 516.5 L302.3 519.1 L303.6 521.6 L304.9 523.9 L306.1 526.1 L307.4 528.2 L308.6 530.2 L309.8 532.2 L311 534 L312.2 535.8 L313.3 537.5 L314.5 539.1 L315.7 540.6 L316.8 541.9 L318 543.2 L319.2 544.4 L320.4 545.4 L321.6 546.3 L322.7 547.1 L323.9 547.8 L325.1 548.3 L326.3 548.8 L327.4 549.2 L328.6 549.6 L329.8 549.8 L331 550.1 L332.3 550.3 L333.5 550.5 L334.8 550.7 L336.2 550.8 L337.5 550.8 L338.9 550.8 L340.2 550.7 L341.6 550.6 L343 550.4 L344.4 550.3 L345.8 550 L347.2 549.8 L348.6 549.6 L349.9 549.3 L351.3 549 L352.7 548.7 L354 548.3 L355.4 547.9 L356.8 547.5 L358.1 547 L359.5 546.6 L360.9 546.1 L362.2 545.6 L363.6 545.2 L365 544.8 L366.3 544.4 L367.7 544 L369.1 543.6 L370.6 543.3 L372.1 542.9 L373.5 542.6 L375 542.2 L376.4 541.9 L377.8 541.6 L379.1 541.2 L380.4 540.9 L381.6 540.6 L382.7 540.3 L383.7 540 L384.6 539.7 L385.5 539.4 L386.3 539.1 L387 538.9 L387.7 538.6 L388.3 538.3 L389 538.1 L389.7 537.8 L390.3 537.5 L391 537.3 L391.7 537" stroke="#868686" stroke-width="1.6" fill="none"/>
<path d="M177.8 444 L179.5 443.2 L181.2 442.4 L182.9 441.6 L184.5 440.8 L186.2 440 L187.8 439.2 L189.5 438.4 L191.2 437.7 L192.9 436.9 L194.7 436.2 L196.5 435.6 L198.3 435 L200.3 434.4 L202.2 433.9 L204.3 433.4 L206.4 432.9 L208.5 432.4 L210.6 432 L212.8 431.6 L214.9 431.3 L217 431 L219 430.8 L221 430.6 L222.9 430.5 L224.8 430.4 L226.6 430.5 L228.3 430.6 L230.1 430.8 L231.7 431 L233.4 431.2 L235.1 431.5 L236.7 431.8 L238.4 432.1 L240 432.4 L241.7 432.7 L243.4 432.9 L245.1 433.2 L246.8 433.5 L248.5 433.8 L250.2 434.1 L251.9 434.5 L253.7 434.8 L255.4 435.1 L257.1 435.3 L258.8 435.6 L260.5 435.7 L262.2 435.8 L263.9 435.8 L265.6 435.7 L267.3 435.6 L269 435.3 L270.7 435.1 L272.4 434.7 L274.1 434.4 L275.8 434 L277.6 433.5 L279.3 433.1 L281 432.6 L282.7 432.2 L284.4 431.7 L286.1 431.2 L287.8 430.7 L289.6 430.1 L291.4 429.4 L293.1 428.8 L294.9 428.1 L296.6 427.5 L298.3 426.8 L300 426.2 L301.7 425.7 L303.3 425.2 L304.9 424.7 L306.4 424.4 L307.9 424 L309.3 423.7 L310.8 423.4 L312.2 423.1 L313.6 422.9 L314.9 422.7 L316.2 422.5 L317.5 422.4 L318.8 422.3 L320 422.3 L321.3 422.3 L322.4 422.3 L323.5 422.4 L324.6 422.5 L325.7 422.7 L326.7 422.9 L327.7 423.1 L328.6 423.4 L329.6 423.7 L330.6 424.1 L331.5 424.5 L332.5 425 L333.5 425.6 L334.6 426.1 L335.6 426.7 L336.6 427.3 L337.6 428 L338.7 428.7 L339.7 429.5 L340.7 430.3 L341.7 431.2 L342.8 432.2 L343.8 433.3 L344.8 434.5 L345.8 435.8 L346.9 437.2 L347.9 438.8 L348.9 440.4 L349.9 442.2 L351 444 L352 445.9 L353 447.9 L354 449.9 L355.1 452 L356.1 454.1 L357.1 456.2 L358.1 458.3 L359.2 460.5 L360.2 462.7 L361.2 464.9 L362.2 467.1 L363.3 469.4 L364.3 471.8 L365.3 474.2 L366.3 476.6 L367.4 479.1 L368.4 481.7 L369.4 484.3 L370.4 487 L371.5 489.8 L372.5 492.8 L373.6 495.9 L374.6 499.1 L375.7 502.4 L376.8 505.7 L377.8 508.9 L378.9 512.1 L379.9 515.3 L380.9 518.3 L381.8 521.2 L382.7 523.9 L383.6 526.4 L384.4 528.8 L385.2 531.1 L386 533.2 L386.7 535.3 L387.4 537.3 L388.1 539.3 L388.8 541.3 L389.6 543.2 L390.3 545.2 L391 547.2 L391.7 549.3" stroke="#7a1c1c" stroke-width="1.6" fill="none"/>
<circle cx="177.8" cy="441.1" r="2.5" fill="#868686"/>
<circle cx="197.1" cy="448.1" r="2.5" fill="#868686"/>
<circle cx="218.8" cy="418.6" r="2.5" fill="#868686"/>
<circle cx="245.5" cy="419.4" r="2.5" fill="#868686"/>
<circle cx="245.5" cy="428.8" r="2.5" fill="#868686"/>
<circle cx="272.1" cy="452.2" r="2.5" fill="#868686"/>
<circle cx="272.1" cy="461.6" r="2.5" fill="#868686"/>
<circle cx="298.3" cy="503.4" r="2.5" fill="#868686"/>
<circle cx="298.3" cy="508.3" r="2.5" fill="#868686"/>
<circle cx="324.5" cy="549.7" r="2.5" fill="#868686"/>
<circle cx="350.8" cy="547.7" r="2.5" fill="#868686"/>
<circle cx="350.8" cy="550.5" r="2.5" fill="#868686"/>
<circle cx="372.5" cy="542.3" r="2.5" fill="#868686"/>
<circle cx="372.5" cy="546.4" r="2.5" fill="#868686"/>
<circle cx="391.7" cy="535.4" r="2.5" fill="#868686"/>
<circle cx="391.7" cy="538.6" r="2.5" fill="#868686"/>
<circle cx="177.8" cy="437" r="2.5" fill="#7a1c1c"/>
<circle cx="177.8" cy="454.2" r="2.5" fill="#7a1c1c"/>
<circle cx="197.1" cy="423.5" r="2.5" fill="#7a1c1c"/>
<circle cx="197.1" cy="430.9" r="2.5" fill="#7a1c1c"/>
<circle cx="218.8" cy="428.8" r="2.5" fill="#7a1c1c"/>
<circle cx="218.8" cy="451" r="2.5" fill="#7a1c1c"/>
<circle cx="245.5" cy="423.5" r="2.5" fill="#7a1c1c"/>
<circle cx="245.5" cy="439.9" r="2.5" fill="#7a1c1c"/>
<circle cx="272.1" cy="422.3" r="2.5" fill="#7a1c1c"/>
<circle cx="272.1" cy="443.2" r="2.5" fill="#7a1c1c"/>
<circle cx="298.3" cy="420.2" r="2.5" fill="#7a1c1c"/>
<circle cx="298.3" cy="444" r="2.5" fill="#7a1c1c"/>
<circle cx="324.5" cy="418.6" r="2.5" fill="#7a1c1c"/>
<circle cx="350.8" cy="441.9" r="2.5" fill="#7a1c1c"/>
<circle cx="350.8" cy="459.2" r="2.5" fill="#7a1c1c"/>
<circle cx="372.5" cy="494.4" r="2.5" fill="#7a1c1c"/>
<circle cx="372.5" cy="501.4" r="2.5" fill="#7a1c1c"/>
<circle cx="391.7" cy="549.7" r="2.5" fill="#7a1c1c"/>
<text transform="translate(153.8 571.8) rotate(-90)" font-size="35.5" textLength="180" lengthAdjust="spacingAndGlyphs" fill="#000" class="t">Abundance</text><text x="176.2" y="567.3" font-size="32.5" textLength="144" lengthAdjust="spacingAndGlyphs" fill="#000" class="t">Peptide 1</text><text x="187" y="612.3" font-size="32" textLength="198.5" lengthAdjust="spacingAndGlyphs" fill="#000" class="t">Temperature</text>
</g></g>
<rect x="685" y="48" width="59.5" height="571.8" fill="#9e9e9e"/>
<path d="M744 323.8H778.5L767.3 312.7L816 332.3L767.3 352.5L778.5 340.6H744Z" fill="#9e9e9e"/>
<text transform="translate(727.3 471.4) rotate(-90)" font-size="41" textLength="277.5" lengthAdjust="spacingAndGlyphs" fill="#000" class="tg">Summarization</text>
<text x="842.4" y="312.7" font-size="39.5" textLength="230.4" lengthAdjust="spacingAndGlyphs" fill="#000" class="t">Stabilization</text>
<text x="905.3" y="359.6" font-size="39.5" textLength="104.5" lengthAdjust="spacingAndGlyphs" fill="#000" class="t">score</text>
<text x="36.5" y="62" font-size="58" font-weight="bold" stroke="#000" stroke-width="2" fill="#000">a</text>
<text x="1160.5" y="60.3" font-size="60" font-weight="bold" stroke="#000" stroke-width="2.2" fill="#000">b</text>
<rect x="1369.3" y="125.4" width="61.8" height="377.5" fill="#93b0cb" stroke="#000" stroke-width="4.0"/>
<rect x="1439" y="212.5" width="61.8" height="290.4" fill="#c1cab3" stroke="#000" stroke-width="4.0"/>
<rect x="1508.2" y="399" width="61.8" height="103.9" fill="#b09ca7" stroke="#000" stroke-width="4.0"/>
<rect x="1577.4" y="283.7" width="61.8" height="219.2" fill="#f4dfc3" stroke="#000" stroke-width="4.0"/>
<rect x="1646.6" y="176" width="61.8" height="326.9" fill="#dbb098" stroke="#000" stroke-width="4.0"/>
<rect x="1715.8" y="170.4" width="61.8" height="332.5" fill="#d39191" stroke="#000" stroke-width="4.0"/>
<path d="M1359.4 29.5V525H1789.2" stroke="#000" stroke-width="2.3" fill="none"/>
<path d="M1400 525V539.3M1469.6 525V539.3M1539 525V539.3M1608.3 525V539.3M1677.8 525V539.3M1747 525V539.3M1345.4 503.8H1359.4M1345.4 391H1359.4M1345.4 278.2H1359.4M1345.4 165.4H1359.4M1345.4 52.6H1359.4" stroke="#000" stroke-width="2.3" fill="none"/>
<text x="1330" y="516.3" font-size="34" text-anchor="end" textLength="22" lengthAdjust="spacingAndGlyphs" fill="#000" class="t">0</text>
<text x="1330" y="403.5" font-size="34" text-anchor="end" textLength="52.3" lengthAdjust="spacingAndGlyphs" fill="#000" class="t">0.2</text>
<text x="1330" y="290.7" font-size="34" text-anchor="end" textLength="52.3" lengthAdjust="spacingAndGlyphs" fill="#000" class="t">0.4</text>
<text x="1330" y="177.9" font-size="34" text-anchor="end" textLength="52.3" lengthAdjust="spacingAndGlyphs" fill="#000" class="t">0.6</text>
<text x="1330" y="65.1" font-size="34" text-anchor="end" textLength="52.3" lengthAdjust="spacingAndGlyphs" fill="#000" class="t">0.8</text>
<text transform="translate(1340.8 652.9) rotate(-45)" font-size="40" textLength="114" lengthAdjust="spacingAndGlyphs" fill="#000" class="t">TMAO</text>
<text transform="translate(1386.4 667.9) rotate(-45)" font-size="40" textLength="141.5" lengthAdjust="spacingAndGlyphs" fill="#000" class="t">Betaine</text>
<text transform="translate(1451.7 686.5) rotate(-45)" font-size="40" textLength="154.5" lengthAdjust="spacingAndGlyphs" fill="#000" class="t">Glycerol</text>
<text transform="translate(1535 659.5) rotate(-45)" font-size="40" textLength="129" lengthAdjust="spacingAndGlyphs" fill="#000" class="t">Proline</text>
<text transform="translate(1563.9 699.1) rotate(-45)" font-size="40" textLength="185" lengthAdjust="spacingAndGlyphs" fill="#000" class="t">Trehalose</text>
<text transform="translate(1657.7 677) rotate(-45)" font-size="40" textLength="153" lengthAdjust="spacingAndGlyphs" fill="#000" class="t">Glucose</text>
<text transform="translate(1195.7 472.3) rotate(-90)" font-size="40.5" textLength="387.5" lengthAdjust="spacingAndGlyphs" fill="#000" class="t">Fraction of stabilized</text>
<text transform="translate(1237.6 351) rotate(-90)" font-size="40.5" textLength="148.5" lengthAdjust="spacingAndGlyphs" fill="#000" class="t">proteins</text>
<text x="1866" y="61.5" font-size="60" font-weight="bold" stroke="#000" stroke-width="2.2" fill="#000">c</text>
<path d="M2072.2 57.3 L2072.3 71.4 L2072.3 86.2 L2072.3 101.3 L2072.3 116.3 L2072.3 130.7 L2072.3 144.1 L2072.3 156 L2072.3 166 L2072.3 173.8 L2072.3 179.8 L2072.4 184.4 L2072.4 187.9 L2072.4 190.8 L2072.5 193.5 L2072.6 196.4 L2072.7 200 L2072.9 204 L2073.1 207.9 L2073.3 211.7 L2073.5 215.5 L2073.8 219.3 L2074 223 L2074.3 226.8 L2074.5 230.5 L2074.7 234.2 L2074.9 237.9 L2075 241.6 L2075.2 245.3 L2075.4 248.9 L2075.5 252.6 L2075.7 256.3 L2075.9 260 L2076.1 263.8 L2076.3 267.8 L2076.5 271.9 L2076.7 275.9 L2076.8 279.8 L2077.1 283.5 L2077.3 287 L2077.5 290 L2077.7 292.6 L2078 294.8 L2078.2 296.6 L2078.5 298.3 L2078.8 299.9 L2079.1 301.5 L2079.4 303.1 L2079.7 305 L2080 306.9 L2080.4 308.8 L2080.7 310.6 L2081.1 312.4 L2081.5 314.4 L2081.9 316.6 L2082.3 319.1 L2082.8 322 L2083.3 325.3 L2083.9 328.9 L2084.6 332.9 L2085.3 337 L2085.9 341.3 L2086.5 345.6 L2087.1 349.9 L2087.5 354 L2087.8 358 L2088.1 362.1 L2088.2 366.2 L2088.3 370.2 L2088.4 374.3 L2088.5 378.4 L2088.5 382.4 L2088.5 386.5 L2088.5 390.6 L2088.5 394.6 L2088.4 398.7 L2088.3 402.8 L2088.2 406.8 L2088.1 410.9 L2087.9 415 L2087.7 419 L2087.4 423 L2087.1 427 L2086.8 431 L2086.5 435 L2086.1 439 L2085.6 443 L2085.2 447 L2084.7 451 L2084.2 455.1 L2083.6 459.3 L2083 463.6 L2082.3 467.8 L2081.7 471.9 L2081 475.9 L2080.4 479.6 L2079.8 483 L2079.2 486 L2078.6 488.7 L2078.1 491.2 L2077.5 493.5 L2077 495.7 L2076.4 497.8 L2075.9 500.1 L2075.3 502.4 L2068.7 502.4 L2068.1 500.1 L2067.6 497.8 L2067 495.7 L2066.5 493.5 L2065.9 491.2 L2065.4 488.7 L2064.8 486 L2064.2 483 L2063.6 479.6 L2063 475.9 L2062.3 471.9 L2061.7 467.8 L2061 463.6 L2060.4 459.3 L2059.8 455.1 L2059.3 451 L2058.8 447 L2058.4 443 L2057.9 439 L2057.5 435 L2057.2 431 L2056.9 427 L2056.6 423 L2056.3 419 L2056.1 415 L2055.9 410.9 L2055.8 406.8 L2055.7 402.8 L2055.6 398.7 L2055.5 394.6 L2055.5 390.6 L2055.5 386.5 L2055.5 382.4 L2055.5 378.4 L2055.6 374.3 L2055.7 370.2 L2055.8 366.2 L2055.9 362.1 L2056.2 358 L2056.5 354 L2056.9 349.9 L2057.5 345.6 L2058.1 341.3 L2058.7 337 L2059.4 332.9 L2060.1 328.9 L2060.7 325.3 L2061.2 322 L2061.7 319.1 L2062.1 316.6 L2062.5 314.4 L2062.9 312.4 L2063.3 310.6 L2063.6 308.8 L2064 306.9 L2064.3 305 L2064.6 303.1 L2064.9 301.5 L2065.2 299.9 L2065.5 298.3 L2065.8 296.6 L2066 294.8 L2066.3 292.6 L2066.5 290 L2066.7 287 L2066.9 283.5 L2067.2 279.8 L2067.3 275.9 L2067.5 271.9 L2067.7 267.8 L2067.9 263.8 L2068.1 260 L2068.3 256.3 L2068.5 252.6 L2068.6 248.9 L2068.8 245.3 L2069 241.6 L2069.1 237.9 L2069.3 234.2 L2069.5 230.5 L2069.7 226.8 L2070 223 L2070.2 219.3 L2070.5 215.5 L2070.7 211.7 L2070.9 207.9 L2071.1 204 L2071.3 200 L2071.4 196.4 L2071.5 193.5 L2071.6 190.8 L2071.6 187.9 L2071.6 184.4 L2071.7 179.8 L2071.7 173.8 L2071.7 166 L2071.7 156 L2071.7 144.1 L2071.7 130.7 L2071.7 116.3 L2071.7 101.3 L2071.7 86.2 L2071.7 71.4 L2071.8 57.3Z" fill="#93b0cb" stroke="#2a2a2a" stroke-width="3.4" stroke-linejoin="round"/>
<path d="M2072 195V337M2072 436.6V502.4" stroke="#2a2a2a" stroke-width="4" fill="none"/>
<rect x="2061.8" y="338.9" width="20.4" height="95.7" fill="#93b0cb" stroke="#2a2a2a" stroke-width="3.9"/>
<path d="M2061.5 387.4H2082.5" stroke="#2a2a2a" stroke-width="7" fill="none"/>
<path d="M2176.2 122.8 L2176.3 136.7 L2176.2 151.2 L2176.2 166 L2176.2 180.6 L2176.2 194.7 L2176.2 207.9 L2176.3 219.8 L2176.3 230 L2176.3 238.4 L2176.4 245.2 L2176.5 250.8 L2176.5 255.4 L2176.6 259.4 L2176.7 263 L2176.8 266.4 L2176.9 270 L2177 273.4 L2177.1 276.1 L2177.3 278.4 L2177.4 280.5 L2177.5 282.5 L2177.7 284.6 L2177.8 287.1 L2178 290 L2178.2 293.5 L2178.4 297.5 L2178.6 301.8 L2178.8 306.2 L2179 310.6 L2179.2 314.8 L2179.4 318.7 L2179.6 322 L2179.8 324.8 L2180 327.1 L2180.1 329.2 L2180.3 331 L2180.5 332.7 L2180.7 334.4 L2180.9 336.1 L2181.2 338 L2181.5 340 L2181.9 342 L2182.2 344 L2182.6 346 L2183 348 L2183.5 350 L2183.9 352 L2184.4 354 L2184.9 356 L2185.5 358 L2186 360 L2186.7 362 L2187.3 364 L2187.9 366 L2188.5 368 L2189.1 370 L2189.7 372 L2190.3 374.1 L2190.9 376.2 L2191.5 378.2 L2192.1 380.3 L2192.7 382.4 L2193.3 384.5 L2193.9 386.5 L2194.5 388.5 L2195 390.6 L2195.6 392.6 L2196.1 394.6 L2196.7 396.6 L2197.2 398.6 L2197.7 400.6 L2198.1 402.6 L2198.5 404.6 L2198.9 406.7 L2199.3 408.8 L2199.6 410.9 L2199.9 412.9 L2200.2 414.9 L2200.5 416.8 L2200.7 418.7 L2200.9 420.4 L2201.1 422 L2201.3 423.5 L2201.4 424.9 L2201.5 426.4 L2201.6 428 L2201.6 429.7 L2201.6 431.6 L2201.5 433.7 L2201.4 436.1 L2201.3 438.5 L2201.1 441.1 L2200.8 443.6 L2200.6 446.2 L2200.4 448.6 L2200.1 450.9 L2199.8 453.1 L2199.6 455.2 L2199.3 457.2 L2199 459.2 L2198.7 461.1 L2198.4 463.1 L2198 465 L2197.6 467 L2197.2 469 L2196.8 471.1 L2196.3 473.1 L2195.8 475.2 L2195.3 477.2 L2194.8 479.2 L2194.2 481.1 L2193.6 483 L2192.9 484.8 L2192.2 486.6 L2191.5 488.4 L2190.7 490.1 L2189.9 491.7 L2189.1 493.2 L2188.4 494.7 L2187.6 496 L2186.9 497.2 L2186.1 498.2 L2185.4 499.1 L2184.7 499.9 L2184 500.6 L2183.2 501.4 L2182.5 502.2 L2181.8 503 L2170.2 503 L2169.5 502.2 L2168.8 501.4 L2168 500.6 L2167.3 499.9 L2166.6 499.1 L2165.9 498.2 L2165.1 497.2 L2164.4 496 L2163.6 494.7 L2162.9 493.2 L2162.1 491.7 L2161.3 490.1 L2160.5 488.4 L2159.8 486.6 L2159.1 484.8 L2158.4 483 L2157.8 481.1 L2157.2 479.2 L2156.7 477.2 L2156.2 475.2 L2155.7 473.1 L2155.2 471.1 L2154.8 469 L2154.4 467 L2154 465 L2153.6 463.1 L2153.3 461.1 L2153 459.2 L2152.7 457.2 L2152.4 455.2 L2152.2 453.1 L2151.9 450.9 L2151.6 448.6 L2151.4 446.2 L2151.2 443.6 L2150.9 441.1 L2150.7 438.5 L2150.6 436.1 L2150.5 433.7 L2150.4 431.6 L2150.4 429.7 L2150.4 428 L2150.5 426.4 L2150.6 424.9 L2150.7 423.5 L2150.9 422 L2151.1 420.4 L2151.3 418.7 L2151.5 416.8 L2151.8 414.9 L2152.1 412.9 L2152.4 410.9 L2152.7 408.8 L2153.1 406.7 L2153.5 404.6 L2153.9 402.6 L2154.3 400.6 L2154.8 398.6 L2155.3 396.6 L2155.9 394.6 L2156.4 392.6 L2157 390.6 L2157.5 388.5 L2158.1 386.5 L2158.7 384.5 L2159.3 382.4 L2159.9 380.3 L2160.5 378.2 L2161.1 376.2 L2161.7 374.1 L2162.3 372 L2162.9 370 L2163.5 368 L2164.1 366 L2164.7 364 L2165.3 362 L2166 360 L2166.5 358 L2167.1 356 L2167.6 354 L2168.1 352 L2168.5 350 L2169 348 L2169.4 346 L2169.8 344 L2170.1 342 L2170.5 340 L2170.8 338 L2171.1 336.1 L2171.3 334.4 L2171.5 332.7 L2171.7 331 L2171.9 329.2 L2172 327.1 L2172.2 324.8 L2172.4 322 L2172.6 318.7 L2172.8 314.8 L2173 310.6 L2173.2 306.2 L2173.4 301.8 L2173.6 297.5 L2173.8 293.5 L2174 290 L2174.2 287.1 L2174.3 284.6 L2174.5 282.5 L2174.6 280.5 L2174.7 278.4 L2174.9 276.1 L2175 273.4 L2175.1 270 L2175.2 266.4 L2175.3 263 L2175.4 259.4 L2175.5 255.4 L2175.5 250.8 L2175.6 245.2 L2175.7 238.4 L2175.7 230 L2175.7 219.8 L2175.8 207.9 L2175.8 194.7 L2175.8 180.6 L2175.8 166 L2175.8 151.2 L2175.7 136.7 L2175.8 122.8Z" fill="#c1cab3" stroke="#2a2a2a" stroke-width="3.4" stroke-linejoin="round"/>
<path d="M2176 311.7V397.9M2176 462.8V503" stroke="#2a2a2a" stroke-width="4" fill="none"/>
<rect x="2165.8" y="399.8" width="20.4" height="61" fill="#c1cab3" stroke="#2a2a2a" stroke-width="3.9"/>
<path d="M2165.5 431.5H2186.5" stroke="#2a2a2a" stroke-width="7" fill="none"/>
<path d="M2281.2 185.7 L2281.3 195.3 L2281.3 205.3 L2281.3 215.5 L2281.3 225.6 L2281.3 235.4 L2281.3 244.5 L2281.3 252.8 L2281.3 260 L2281.3 265.6 L2281.3 269.8 L2281.3 273 L2281.2 275.6 L2281.2 278.2 L2281.2 281.1 L2281.3 284.9 L2281.3 290 L2281.4 296.6 L2281.5 304.5 L2281.6 313.2 L2281.7 322.2 L2281.8 331.3 L2282 339.9 L2282.1 347.6 L2282.3 354 L2282.5 359.2 L2282.7 363.5 L2282.9 367.1 L2283.1 370.2 L2283.4 372.9 L2283.6 375.3 L2283.9 377.6 L2284.1 380 L2284.3 382.2 L2284.6 384.2 L2284.8 385.8 L2285 387.3 L2285.3 388.7 L2285.6 390.1 L2285.9 391.5 L2286.3 393 L2286.7 394.6 L2287.2 396.2 L2287.7 397.8 L2288.2 399.4 L2288.8 401 L2289.4 402.6 L2290 404.2 L2290.6 405.8 L2291.3 407.4 L2292 409 L2292.7 410.6 L2293.5 412.2 L2294.3 413.9 L2295 415.5 L2295.7 417.1 L2296.3 418.7 L2296.8 420.3 L2297.3 422 L2297.7 423.7 L2298.1 425.4 L2298.5 427.1 L2298.9 428.7 L2299.2 430.2 L2299.6 431.6 L2300 432.9 L2300.2 434 L2300.5 435 L2300.8 436 L2301.1 437 L2301.5 437.9 L2301.9 438.9 L2302.5 440 L2303.2 441.2 L2304 442.4 L2304.9 443.6 L2305.9 444.9 L2306.9 446.1 L2307.9 447.3 L2308.9 448.5 L2309.9 449.5 L2310.9 450.4 L2311.9 451.2 L2312.9 452 L2313.9 452.7 L2315 453.4 L2316 454 L2317 454.8 L2317.9 455.5 L2318.8 456.3 L2319.8 457.1 L2320.7 457.9 L2321.6 458.7 L2322.5 459.6 L2323.3 460.4 L2324.1 461.2 L2324.7 462 L2325.2 462.8 L2325.7 463.6 L2326.1 464.4 L2326.5 465.1 L2326.8 465.9 L2327 466.7 L2327.2 467.5 L2327.3 468.3 L2327.4 469.1 L2327.4 470 L2327.4 470.8 L2327.4 471.6 L2327.3 472.5 L2327.1 473.3 L2326.9 474.2 L2326.6 475 L2326.3 475.8 L2325.9 476.6 L2325.4 477.4 L2324.9 478.2 L2324.3 479 L2323.7 479.8 L2323 480.7 L2322.3 481.5 L2321.5 482.4 L2320.6 483.2 L2319.6 484.1 L2318.6 485 L2317.6 485.9 L2316.5 486.7 L2315.4 487.6 L2314.3 488.5 L2313.2 489.4 L2312 490.3 L2310.9 491.2 L2309.7 492.1 L2308.4 493 L2307.3 493.9 L2306.1 494.7 L2305 495.5 L2303.9 496.3 L2302.9 497 L2301.9 497.7 L2300.9 498.3 L2299.9 499 L2299 499.7 L2298 500.3 L2297 501 L2265 501 L2264 500.3 L2263 499.7 L2262.1 499 L2261.1 498.3 L2260.1 497.7 L2259.1 497 L2258.1 496.3 L2257 495.5 L2255.9 494.7 L2254.7 493.9 L2253.6 493 L2252.3 492.1 L2251.1 491.2 L2250 490.3 L2248.8 489.4 L2247.7 488.5 L2246.6 487.6 L2245.5 486.7 L2244.4 485.9 L2243.4 485 L2242.4 484.1 L2241.4 483.2 L2240.5 482.4 L2239.7 481.5 L2239 480.7 L2238.3 479.8 L2237.7 479 L2237.1 478.2 L2236.6 477.4 L2236.1 476.6 L2235.7 475.8 L2235.4 475 L2235.1 474.2 L2234.9 473.3 L2234.7 472.5 L2234.6 471.6 L2234.6 470.8 L2234.6 470 L2234.6 469.1 L2234.7 468.3 L2234.8 467.5 L2235 466.7 L2235.2 465.9 L2235.5 465.1 L2235.9 464.4 L2236.3 463.6 L2236.8 462.8 L2237.3 462 L2237.9 461.2 L2238.7 460.4 L2239.5 459.6 L2240.4 458.7 L2241.3 457.9 L2242.2 457.1 L2243.2 456.3 L2244.1 455.5 L2245 454.8 L2246 454 L2247 453.4 L2248.1 452.7 L2249.1 452 L2250.1 451.2 L2251.1 450.4 L2252.1 449.5 L2253.1 448.5 L2254.1 447.3 L2255.1 446.1 L2256.1 444.9 L2257.1 443.6 L2258 442.4 L2258.8 441.2 L2259.5 440 L2260.1 438.9 L2260.5 437.9 L2260.9 437 L2261.2 436 L2261.5 435 L2261.8 434 L2262 432.9 L2262.4 431.6 L2262.8 430.2 L2263.1 428.7 L2263.5 427.1 L2263.9 425.4 L2264.3 423.7 L2264.7 422 L2265.2 420.3 L2265.7 418.7 L2266.3 417.1 L2267 415.5 L2267.7 413.9 L2268.5 412.2 L2269.3 410.6 L2270 409 L2270.7 407.4 L2271.4 405.8 L2272 404.2 L2272.6 402.6 L2273.2 401 L2273.8 399.4 L2274.3 397.8 L2274.8 396.2 L2275.3 394.6 L2275.7 393 L2276.1 391.5 L2276.4 390.1 L2276.7 388.7 L2277 387.3 L2277.2 385.8 L2277.4 384.2 L2277.7 382.2 L2277.9 380 L2278.1 377.6 L2278.4 375.3 L2278.6 372.9 L2278.9 370.2 L2279.1 367.1 L2279.3 363.5 L2279.5 359.2 L2279.7 354 L2279.9 347.6 L2280 339.9 L2280.2 331.3 L2280.3 322.2 L2280.4 313.2 L2280.5 304.5 L2280.6 296.6 L2280.7 290 L2280.7 284.9 L2280.8 281.1 L2280.8 278.2 L2280.8 275.6 L2280.7 273 L2280.7 269.8 L2280.7 265.6 L2280.7 260 L2280.7 252.8 L2280.7 244.5 L2280.7 235.4 L2280.7 225.6 L2280.7 215.5 L2280.7 205.3 L2280.7 195.3 L2280.8 185.7Z" fill="#b09ca7" stroke="#2a2a2a" stroke-width="3.4" stroke-linejoin="round"/>
<path d="M2281 380V438.5M2281 481.1V501" stroke="#2a2a2a" stroke-width="4" fill="none"/>
<rect x="2270.8" y="440.4" width="20.4" height="38.7" fill="#b09ca7" stroke="#2a2a2a" stroke-width="3.9"/>
<path d="M2270.5 464H2291.5" stroke="#2a2a2a" stroke-width="7" fill="none"/>
<path d="M2385.8 211.8 L2385.8 217.9 L2385.7 224.3 L2385.7 230.7 L2385.7 237 L2385.7 243.3 L2385.7 249.2 L2385.8 254.8 L2385.8 260 L2385.9 264.6 L2385.9 268.7 L2386 272.5 L2386.1 276 L2386.2 279.4 L2386.3 282.8 L2386.4 286.3 L2386.5 290 L2386.6 294 L2386.7 298.2 L2386.8 302.6 L2386.8 306.9 L2386.9 311.1 L2387 315.1 L2387.1 318.8 L2387.2 322 L2387.3 324.8 L2387.4 327.1 L2387.4 329.2 L2387.5 331 L2387.6 332.7 L2387.7 334.4 L2387.9 336.1 L2388.1 338 L2388.4 340 L2388.7 342 L2389.1 344 L2389.6 346 L2390 348 L2390.5 350 L2390.9 352 L2391.4 354 L2391.9 356 L2392.4 358 L2392.9 360 L2393.4 362 L2393.9 364 L2394.5 366 L2395 368 L2395.5 370 L2396 372 L2396.5 374.1 L2397 376.2 L2397.4 378.2 L2397.9 380.3 L2398.4 382.4 L2398.9 384.5 L2399.4 386.5 L2399.9 388.5 L2400.4 390.6 L2401 392.6 L2401.5 394.6 L2402 396.6 L2402.6 398.6 L2403.1 400.6 L2403.6 402.6 L2404.1 404.6 L2404.6 406.6 L2405.1 408.6 L2405.6 410.7 L2406 412.7 L2406.5 414.7 L2407 416.7 L2407.4 418.7 L2407.8 420.7 L2408.3 422.7 L2408.7 424.7 L2409.2 426.8 L2409.6 428.8 L2410 430.8 L2410.4 432.8 L2410.7 434.8 L2411 436.9 L2411.3 439 L2411.5 441.1 L2411.7 443.3 L2411.9 445.3 L2412.1 447.3 L2412.3 449.2 L2412.4 450.9 L2412.5 452.4 L2412.6 453.7 L2412.7 454.8 L2412.8 455.9 L2412.8 456.9 L2412.8 458 L2412.8 459.2 L2412.8 460.5 L2412.7 462 L2412.6 463.6 L2412.5 465.2 L2412.4 466.9 L2412.2 468.7 L2412 470.3 L2411.8 471.9 L2411.6 473.4 L2411.4 474.8 L2411.2 476 L2411 477.2 L2410.7 478.4 L2410.5 479.5 L2410.2 480.7 L2409.8 481.8 L2409.4 483 L2408.9 484.2 L2408.4 485.4 L2407.8 486.6 L2407.2 487.8 L2406.6 489.1 L2405.9 490.3 L2405.2 491.5 L2404.4 492.7 L2403.6 493.9 L2402.7 495.1 L2401.8 496.3 L2400.8 497.5 L2399.9 498.8 L2398.9 500 L2397.9 501.2 L2397 502.4 L2374 502.4 L2373.1 501.2 L2372.1 500 L2371.1 498.8 L2370.2 497.5 L2369.2 496.3 L2368.3 495.1 L2367.4 493.9 L2366.6 492.7 L2365.8 491.5 L2365.1 490.3 L2364.4 489.1 L2363.8 487.8 L2363.2 486.6 L2362.6 485.4 L2362.1 484.2 L2361.6 483 L2361.2 481.8 L2360.8 480.7 L2360.5 479.5 L2360.3 478.4 L2360 477.2 L2359.8 476 L2359.6 474.8 L2359.4 473.4 L2359.2 471.9 L2359 470.3 L2358.8 468.7 L2358.6 466.9 L2358.5 465.2 L2358.4 463.6 L2358.3 462 L2358.2 460.5 L2358.2 459.2 L2358.2 458 L2358.2 456.9 L2358.2 455.9 L2358.3 454.8 L2358.4 453.7 L2358.5 452.4 L2358.6 450.9 L2358.7 449.2 L2358.9 447.3 L2359.1 445.3 L2359.3 443.3 L2359.5 441.1 L2359.7 439 L2360 436.9 L2360.3 434.8 L2360.6 432.8 L2361 430.8 L2361.4 428.8 L2361.8 426.8 L2362.3 424.7 L2362.7 422.7 L2363.2 420.7 L2363.6 418.7 L2364 416.7 L2364.5 414.7 L2365 412.7 L2365.4 410.7 L2365.9 408.6 L2366.4 406.6 L2366.9 404.6 L2367.4 402.6 L2367.9 400.6 L2368.4 398.6 L2369 396.6 L2369.5 394.6 L2370 392.6 L2370.6 390.6 L2371.1 388.5 L2371.6 386.5 L2372.1 384.5 L2372.6 382.4 L2373.1 380.3 L2373.6 378.2 L2374 376.2 L2374.5 374.1 L2375 372 L2375.5 370 L2376 368 L2376.5 366 L2377.1 364 L2377.6 362 L2378.1 360 L2378.6 358 L2379.1 356 L2379.6 354 L2380.1 352 L2380.5 350 L2381 348 L2381.4 346 L2381.9 344 L2382.3 342 L2382.6 340 L2382.9 338 L2383.1 336.1 L2383.3 334.4 L2383.4 332.7 L2383.5 331 L2383.6 329.2 L2383.6 327.1 L2383.7 324.8 L2383.8 322 L2383.9 318.8 L2384 315.1 L2384.1 311.1 L2384.2 306.9 L2384.2 302.6 L2384.3 298.2 L2384.4 294 L2384.5 290 L2384.6 286.3 L2384.7 282.8 L2384.8 279.4 L2384.9 276 L2385 272.5 L2385.1 268.7 L2385.1 264.6 L2385.2 260 L2385.2 254.8 L2385.3 249.2 L2385.3 243.3 L2385.3 237 L2385.3 230.7 L2385.3 224.3 L2385.2 217.9 L2385.2 211.8Z" fill="#f4dfc3" stroke="#2a2a2a" stroke-width="3.4" stroke-linejoin="round"/>
<path d="M2385.5 325V409M2385.5 471.7V502.4" stroke="#2a2a2a" stroke-width="4" fill="none"/>
<rect x="2375.3" y="410.9" width="20.4" height="58.8" fill="#f4dfc3" stroke="#2a2a2a" stroke-width="3.9"/>
<path d="M2375 443.3H2396" stroke="#2a2a2a" stroke-width="7" fill="none"/>
<path d="M2490.2 172.3 L2490.3 183.7 L2490.3 195.6 L2490.3 207.7 L2490.3 219.8 L2490.3 231.3 L2490.3 242.1 L2490.3 251.8 L2490.3 260 L2490.3 266.5 L2490.3 271.5 L2490.3 275.4 L2490.3 278.5 L2490.3 281.1 L2490.3 283.7 L2490.3 286.5 L2490.3 290 L2490.3 293.9 L2490.3 297.9 L2490.3 301.9 L2490.4 305.9 L2490.4 309.9 L2490.4 314 L2490.5 318 L2490.6 322 L2490.7 326.1 L2490.8 330.4 L2491 334.7 L2491.2 339 L2491.4 343.2 L2491.6 347.1 L2491.8 350.8 L2492 354 L2492.2 356.8 L2492.5 359.3 L2492.8 361.4 L2493 363.4 L2493.3 365.1 L2493.7 366.8 L2494 368.4 L2494.4 370 L2494.8 371.5 L2495.2 372.9 L2495.6 374.1 L2496 375.2 L2496.5 376.3 L2497 377.4 L2497.6 378.6 L2498.3 380 L2499.1 381.5 L2499.9 383 L2500.8 384.7 L2501.8 386.3 L2502.7 388 L2503.7 389.7 L2504.7 391.4 L2505.7 393 L2506.7 394.6 L2507.6 396.2 L2508.6 397.8 L2509.6 399.4 L2510.6 401 L2511.6 402.6 L2512.6 404.2 L2513.6 405.8 L2514.6 407.4 L2515.6 409.1 L2516.6 410.8 L2517.6 412.4 L2518.6 414.1 L2519.5 415.7 L2520.3 417.2 L2521.1 418.7 L2521.8 420.1 L2522.4 421.4 L2522.9 422.6 L2523.4 423.8 L2523.9 424.9 L2524.3 426.1 L2524.7 427.2 L2525 428.4 L2525.3 429.6 L2525.6 430.7 L2525.8 431.9 L2526 433 L2526.2 434.2 L2526.3 435.4 L2526.3 436.6 L2526.3 438 L2526.2 439.5 L2526.1 441 L2525.9 442.6 L2525.7 444.2 L2525.4 445.9 L2525.1 447.6 L2524.7 449.3 L2524.3 450.9 L2523.9 452.5 L2523.4 454.1 L2522.8 455.7 L2522.3 457.3 L2521.6 458.9 L2521 460.5 L2520.3 462.1 L2519.6 463.7 L2518.8 465.3 L2518 466.9 L2517.2 468.5 L2516.3 470.1 L2515.3 471.8 L2514.4 473.4 L2513.5 475 L2512.6 476.6 L2511.7 478.2 L2510.8 479.9 L2509.8 481.6 L2508.9 483.3 L2508 484.9 L2507.1 486.5 L2506.2 488.1 L2505.3 489.5 L2504.4 490.9 L2503.6 492.2 L2502.7 493.6 L2501.8 494.8 L2501 496 L2500.2 497.1 L2499.5 498.1 L2498.8 499 L2498.2 499.8 L2497.6 500.4 L2497.1 500.9 L2496.6 501.3 L2496.2 501.7 L2495.7 502.1 L2495.3 502.5 L2494.8 503 L2485.2 503 L2484.7 502.5 L2484.3 502.1 L2483.8 501.7 L2483.4 501.3 L2482.9 500.9 L2482.4 500.4 L2481.8 499.8 L2481.2 499 L2480.5 498.1 L2479.8 497.1 L2479 496 L2478.2 494.8 L2477.3 493.6 L2476.4 492.2 L2475.6 490.9 L2474.7 489.5 L2473.8 488.1 L2472.9 486.5 L2472 484.9 L2471.1 483.3 L2470.2 481.6 L2469.2 479.9 L2468.3 478.2 L2467.4 476.6 L2466.5 475 L2465.6 473.4 L2464.7 471.8 L2463.7 470.1 L2462.8 468.5 L2462 466.9 L2461.2 465.3 L2460.4 463.7 L2459.7 462.1 L2459 460.5 L2458.4 458.9 L2457.7 457.3 L2457.2 455.7 L2456.6 454.1 L2456.1 452.5 L2455.7 450.9 L2455.3 449.3 L2454.9 447.6 L2454.6 445.9 L2454.3 444.2 L2454.1 442.6 L2453.9 441 L2453.8 439.5 L2453.7 438 L2453.7 436.6 L2453.7 435.4 L2453.8 434.2 L2454 433 L2454.2 431.9 L2454.4 430.7 L2454.7 429.6 L2455 428.4 L2455.3 427.2 L2455.7 426.1 L2456.1 424.9 L2456.6 423.8 L2457.1 422.6 L2457.6 421.4 L2458.2 420.1 L2458.9 418.7 L2459.7 417.2 L2460.5 415.7 L2461.4 414.1 L2462.4 412.4 L2463.4 410.8 L2464.4 409.1 L2465.4 407.4 L2466.4 405.8 L2467.4 404.2 L2468.4 402.6 L2469.4 401 L2470.4 399.4 L2471.4 397.8 L2472.4 396.2 L2473.3 394.6 L2474.3 393 L2475.3 391.4 L2476.3 389.7 L2477.3 388 L2478.2 386.3 L2479.2 384.7 L2480.1 383 L2480.9 381.5 L2481.7 380 L2482.4 378.6 L2483 377.4 L2483.5 376.3 L2484 375.2 L2484.4 374.1 L2484.8 372.9 L2485.2 371.5 L2485.6 370 L2486 368.4 L2486.3 366.8 L2486.7 365.1 L2487 363.4 L2487.2 361.4 L2487.5 359.3 L2487.8 356.8 L2488 354 L2488.2 350.8 L2488.4 347.1 L2488.6 343.2 L2488.8 339 L2489 334.7 L2489.2 330.4 L2489.3 326.1 L2489.4 322 L2489.5 318 L2489.6 314 L2489.6 309.9 L2489.6 305.9 L2489.7 301.9 L2489.7 297.9 L2489.7 293.9 L2489.7 290 L2489.7 286.5 L2489.7 283.7 L2489.7 281.1 L2489.7 278.5 L2489.7 275.4 L2489.7 271.5 L2489.7 266.5 L2489.7 260 L2489.7 251.8 L2489.7 242.1 L2489.7 231.3 L2489.7 219.8 L2489.7 207.7 L2489.7 195.6 L2489.7 183.7 L2489.8 172.3Z" fill="#dbb098" stroke="#2a2a2a" stroke-width="3.4" stroke-linejoin="round"/>
<path d="M2490 358V421M2490 468.8V503" stroke="#2a2a2a" stroke-width="4" fill="none"/>
<rect x="2479.8" y="422.9" width="20.4" height="43.9" fill="#dbb098" stroke="#2a2a2a" stroke-width="3.9"/>
<path d="M2479.5 443.3H2500.5" stroke="#2a2a2a" stroke-width="7" fill="none"/>
<path d="M2594.9 137.6 L2595 150.9 L2595 164.9 L2595 179.2 L2595 193.3 L2595 206.9 L2595 219.5 L2595 230.7 L2595 240 L2595 247.3 L2595 252.8 L2595.1 257 L2595.1 260.1 L2595.1 262.7 L2595.1 264.9 L2595.2 267.2 L2595.2 270 L2595.2 273 L2595.3 275.8 L2595.4 278.4 L2595.4 280.9 L2595.5 283.2 L2595.6 285.5 L2595.6 287.8 L2595.7 290 L2595.8 292.2 L2595.8 294.3 L2595.9 296.3 L2596 298.2 L2596.1 300.2 L2596.2 302.1 L2596.3 304 L2596.4 306 L2596.5 308 L2596.6 310 L2596.8 312 L2596.9 314 L2597.1 316 L2597.3 318 L2597.5 320 L2597.8 322 L2598.2 324 L2598.6 326 L2599.1 328 L2599.6 330 L2600.1 332 L2600.6 334 L2601.2 336 L2601.7 338 L2602.2 340 L2602.7 342 L2603.3 344 L2603.8 346 L2604.3 348 L2604.9 350 L2605.4 352 L2605.9 354 L2606.4 356 L2606.9 358 L2607.3 360 L2607.8 362 L2608.3 364 L2608.7 366 L2609.2 368 L2609.7 370 L2610.2 372 L2610.8 374.1 L2611.3 376.2 L2611.9 378.2 L2612.4 380.3 L2613 382.4 L2613.4 384.5 L2613.9 386.5 L2614.3 388.5 L2614.7 390.6 L2615.1 392.6 L2615.4 394.6 L2615.7 396.6 L2616 398.6 L2616.3 400.6 L2616.5 402.6 L2616.7 404.6 L2616.9 406.6 L2617 408.6 L2617.1 410.7 L2617.2 412.7 L2617.3 414.7 L2617.4 416.7 L2617.6 418.7 L2617.8 420.8 L2618 422.9 L2618.3 425 L2618.6 427.2 L2618.8 429.2 L2619.1 431.2 L2619.3 433.1 L2619.4 434.8 L2619.5 436.3 L2619.6 437.6 L2619.6 438.7 L2619.7 439.8 L2619.6 440.8 L2619.6 441.9 L2619.5 443.1 L2619.4 444.4 L2619.2 445.9 L2619 447.4 L2618.7 449 L2618.4 450.7 L2618.1 452.3 L2617.8 454 L2617.4 455.7 L2617.1 457.3 L2616.8 458.9 L2616.5 460.5 L2616.1 462.1 L2615.8 463.6 L2615.4 465.2 L2615.1 466.8 L2614.7 468.4 L2614.3 470 L2613.9 471.6 L2613.5 473.2 L2613.1 474.9 L2612.7 476.5 L2612.3 478.1 L2611.8 479.7 L2611.3 481.4 L2610.8 483 L2610.2 484.7 L2609.6 486.4 L2609 488.2 L2608.3 489.9 L2607.7 491.6 L2607 493.2 L2606.4 494.7 L2605.8 496 L2605.3 497.1 L2604.8 498.1 L2604.3 498.9 L2603.8 499.6 L2603.4 500.3 L2602.9 501 L2602.5 501.6 L2602 502.4 L2587.4 502.4 L2586.9 501.6 L2586.5 501 L2586 500.3 L2585.6 499.6 L2585.1 498.9 L2584.6 498.1 L2584.1 497.1 L2583.6 496 L2583 494.7 L2582.4 493.2 L2581.7 491.6 L2581.1 489.9 L2580.4 488.2 L2579.8 486.4 L2579.2 484.7 L2578.6 483 L2578.1 481.4 L2577.6 479.7 L2577.1 478.1 L2576.7 476.5 L2576.3 474.9 L2575.9 473.2 L2575.5 471.6 L2575.1 470 L2574.7 468.4 L2574.3 466.8 L2574 465.2 L2573.6 463.6 L2573.3 462.1 L2572.9 460.5 L2572.6 458.9 L2572.3 457.3 L2572 455.7 L2571.6 454 L2571.3 452.3 L2571 450.7 L2570.7 449 L2570.4 447.4 L2570.2 445.9 L2570 444.4 L2569.9 443.1 L2569.8 441.9 L2569.8 440.8 L2569.7 439.8 L2569.8 438.7 L2569.8 437.6 L2569.9 436.3 L2570 434.8 L2570.1 433.1 L2570.3 431.2 L2570.6 429.2 L2570.8 427.2 L2571.1 425 L2571.4 422.9 L2571.6 420.8 L2571.8 418.7 L2572 416.7 L2572.1 414.7 L2572.2 412.7 L2572.3 410.7 L2572.4 408.6 L2572.5 406.6 L2572.7 404.6 L2572.9 402.6 L2573.1 400.6 L2573.4 398.6 L2573.7 396.6 L2574 394.6 L2574.3 392.6 L2574.7 390.6 L2575.1 388.5 L2575.5 386.5 L2576 384.5 L2576.4 382.4 L2577 380.3 L2577.5 378.2 L2578.1 376.2 L2578.6 374.1 L2579.2 372 L2579.7 370 L2580.2 368 L2580.7 366 L2581.1 364 L2581.6 362 L2582.1 360 L2582.5 358 L2583 356 L2583.5 354 L2584 352 L2584.5 350 L2585.1 348 L2585.6 346 L2586.1 344 L2586.7 342 L2587.2 340 L2587.7 338 L2588.2 336 L2588.8 334 L2589.3 332 L2589.8 330 L2590.3 328 L2590.8 326 L2591.2 324 L2591.6 322 L2591.9 320 L2592.1 318 L2592.3 316 L2592.5 314 L2592.6 312 L2592.8 310 L2592.9 308 L2593 306 L2593.1 304 L2593.2 302.1 L2593.3 300.2 L2593.4 298.2 L2593.5 296.3 L2593.6 294.3 L2593.6 292.2 L2593.7 290 L2593.8 287.8 L2593.8 285.5 L2593.9 283.2 L2594 280.9 L2594 278.4 L2594.1 275.8 L2594.2 273 L2594.2 270 L2594.2 267.2 L2594.3 264.9 L2594.3 262.7 L2594.3 260.1 L2594.3 257 L2594.4 252.8 L2594.4 247.3 L2594.4 240 L2594.4 230.7 L2594.4 219.5 L2594.4 206.9 L2594.4 193.3 L2594.4 179.2 L2594.4 164.9 L2594.4 150.9 L2594.4 137.6Z" fill="#d39191" stroke="#2a2a2a" stroke-width="3.4" stroke-linejoin="round"/>
<path d="M2594.7 300V394.1M2594.7 462.9V502.4" stroke="#2a2a2a" stroke-width="4" fill="none"/>
<rect x="2584.5" y="396.1" width="20.4" height="64.9" fill="#d39191" stroke="#2a2a2a" stroke-width="3.9"/>
<path d="M2584.2 429.1H2605.2" stroke="#2a2a2a" stroke-width="7" fill="none"/>
<path d="M2009.5 35V525H2657.6" stroke="#000" stroke-width="2.3" fill="none"/>
<path d="M2072 525V539.2M2176 525V539.2M2281 525V539.2M2385.6 525V539.2M2489.8 525V539.2M2594.8 525V539.2M1995 503H2009.5M1995 397.4H2009.5M1995 291.7H2009.5M1995 186H2009.5M1995 80.4H2009.5" stroke="#000" stroke-width="2.3" fill="none"/>
<text x="1979.6" y="515.6" font-size="34" text-anchor="end" textLength="22" lengthAdjust="spacingAndGlyphs" fill="#000" class="t">0</text>
<text x="1979.6" y="410" font-size="34" text-anchor="end" textLength="39.5" lengthAdjust="spacingAndGlyphs" fill="#000" class="t">10</text>
<text x="1979.6" y="304.3" font-size="34" text-anchor="end" textLength="43.5" lengthAdjust="spacingAndGlyphs" fill="#000" class="t">20</text>
<text x="1979.6" y="198.6" font-size="34" text-anchor="end" textLength="43.5" lengthAdjust="spacingAndGlyphs" fill="#000" class="t">30</text>
<text x="1979.6" y="93" font-size="34" text-anchor="end" textLength="43.5" lengthAdjust="spacingAndGlyphs" fill="#000" class="t">40</text>
<text transform="translate(2012.5 652.5) rotate(-45)" font-size="40" textLength="114" lengthAdjust="spacingAndGlyphs" fill="#000" class="t">TMAO</text>
<text transform="translate(2095.8 667.7) rotate(-45)" font-size="40" textLength="141.5" lengthAdjust="spacingAndGlyphs" fill="#000" class="t">Betaine</text>
<text transform="translate(2196.4 685.1) rotate(-45)" font-size="40" textLength="154.5" lengthAdjust="spacingAndGlyphs" fill="#000" class="t">Glycerol</text>
<text transform="translate(2314.5 659.6) rotate(-45)" font-size="40" textLength="129" lengthAdjust="spacingAndGlyphs" fill="#000" class="t">Proline</text>
<text transform="translate(2377.1 698.7) rotate(-45)" font-size="40" textLength="185" lengthAdjust="spacingAndGlyphs" fill="#000" class="t">Trehalose</text>
<text transform="translate(2504.7 677.1) rotate(-45)" font-size="40" textLength="153" lengthAdjust="spacingAndGlyphs" fill="#000" class="t">Glucose</text>
<text transform="translate(1901 451.5) rotate(-90)" font-size="40.5" textLength="344" lengthAdjust="spacingAndGlyphs" fill="#000" class="t">Stabilization score</text>
</svg></body></html>
